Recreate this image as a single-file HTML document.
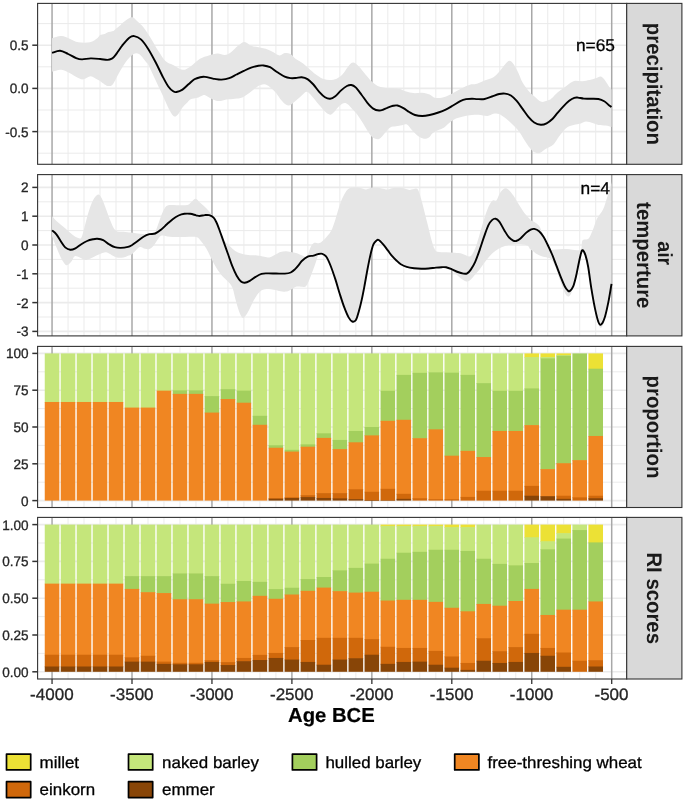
<!DOCTYPE html>
<html><head><meta charset="utf-8"><title>chart</title>
<style>
html,body{margin:0;padding:0;background:#fff;}
body{width:685px;height:801px;overflow:hidden;font-family:"Liberation Sans",sans-serif;}
svg{display:block;will-change:transform;opacity:0.9999;}
text{text-rendering:geometricPrecision;}
</style></head><body>
<svg width="685" height="801" viewBox="0 0 685 801" font-family="'Liberation Sans', sans-serif">
<rect width="685" height="801" fill="#fff"/>
<g>
<clipPath id="c0"><rect x="37.6" y="3.4" width="589.1" height="160.9"/></clipPath>
<g clip-path="url(#c0)">
<line x1="37.6" x2="626.7" y1="23.6" y2="23.6" stroke="#ebebeb" stroke-width="1.0"/>
<line x1="37.6" x2="626.7" y1="66.8" y2="66.8" stroke="#ebebeb" stroke-width="1.0"/>
<line x1="37.6" x2="626.7" y1="110" y2="110" stroke="#ebebeb" stroke-width="1.0"/>
<line x1="37.6" x2="626.7" y1="153.2" y2="153.2" stroke="#ebebeb" stroke-width="1.0"/>
<line x1="68.04" x2="68.04" y1="3.4" y2="164.3" stroke="#ebebeb" stroke-width="1.0"/>
<line x1="84.03" x2="84.03" y1="3.4" y2="164.3" stroke="#ebebeb" stroke-width="1.0"/>
<line x1="100.02" x2="100.02" y1="3.4" y2="164.3" stroke="#ebebeb" stroke-width="1.0"/>
<line x1="116.01" x2="116.01" y1="3.4" y2="164.3" stroke="#ebebeb" stroke-width="1.0"/>
<line x1="147.99" x2="147.99" y1="3.4" y2="164.3" stroke="#ebebeb" stroke-width="1.0"/>
<line x1="163.98" x2="163.98" y1="3.4" y2="164.3" stroke="#ebebeb" stroke-width="1.0"/>
<line x1="179.97" x2="179.97" y1="3.4" y2="164.3" stroke="#ebebeb" stroke-width="1.0"/>
<line x1="195.96" x2="195.96" y1="3.4" y2="164.3" stroke="#ebebeb" stroke-width="1.0"/>
<line x1="227.94" x2="227.94" y1="3.4" y2="164.3" stroke="#ebebeb" stroke-width="1.0"/>
<line x1="243.93" x2="243.93" y1="3.4" y2="164.3" stroke="#ebebeb" stroke-width="1.0"/>
<line x1="259.92" x2="259.92" y1="3.4" y2="164.3" stroke="#ebebeb" stroke-width="1.0"/>
<line x1="275.91" x2="275.91" y1="3.4" y2="164.3" stroke="#ebebeb" stroke-width="1.0"/>
<line x1="307.89" x2="307.89" y1="3.4" y2="164.3" stroke="#ebebeb" stroke-width="1.0"/>
<line x1="323.88" x2="323.88" y1="3.4" y2="164.3" stroke="#ebebeb" stroke-width="1.0"/>
<line x1="339.87" x2="339.87" y1="3.4" y2="164.3" stroke="#ebebeb" stroke-width="1.0"/>
<line x1="355.86" x2="355.86" y1="3.4" y2="164.3" stroke="#ebebeb" stroke-width="1.0"/>
<line x1="387.84" x2="387.84" y1="3.4" y2="164.3" stroke="#ebebeb" stroke-width="1.0"/>
<line x1="403.83" x2="403.83" y1="3.4" y2="164.3" stroke="#ebebeb" stroke-width="1.0"/>
<line x1="419.82" x2="419.82" y1="3.4" y2="164.3" stroke="#ebebeb" stroke-width="1.0"/>
<line x1="435.81" x2="435.81" y1="3.4" y2="164.3" stroke="#ebebeb" stroke-width="1.0"/>
<line x1="467.79" x2="467.79" y1="3.4" y2="164.3" stroke="#ebebeb" stroke-width="1.0"/>
<line x1="483.78" x2="483.78" y1="3.4" y2="164.3" stroke="#ebebeb" stroke-width="1.0"/>
<line x1="499.77" x2="499.77" y1="3.4" y2="164.3" stroke="#ebebeb" stroke-width="1.0"/>
<line x1="515.76" x2="515.76" y1="3.4" y2="164.3" stroke="#ebebeb" stroke-width="1.0"/>
<line x1="547.74" x2="547.74" y1="3.4" y2="164.3" stroke="#ebebeb" stroke-width="1.0"/>
<line x1="563.73" x2="563.73" y1="3.4" y2="164.3" stroke="#ebebeb" stroke-width="1.0"/>
<line x1="579.72" x2="579.72" y1="3.4" y2="164.3" stroke="#ebebeb" stroke-width="1.0"/>
<line x1="595.71" x2="595.71" y1="3.4" y2="164.3" stroke="#ebebeb" stroke-width="1.0"/>
<line x1="37.6" x2="626.7" y1="45.2" y2="45.2" stroke="#ebebeb" stroke-width="1.6"/>
<line x1="37.6" x2="626.7" y1="88.4" y2="88.4" stroke="#ebebeb" stroke-width="1.6"/>
<line x1="37.6" x2="626.7" y1="131.6" y2="131.6" stroke="#ebebeb" stroke-width="1.6"/>
<line x1="52.05" x2="52.05" y1="3.4" y2="164.3" stroke="#a8a8a8" stroke-width="1.5"/>
<line x1="132" x2="132" y1="3.4" y2="164.3" stroke="#a8a8a8" stroke-width="1.5"/>
<line x1="211.95" x2="211.95" y1="3.4" y2="164.3" stroke="#a8a8a8" stroke-width="1.5"/>
<line x1="291.9" x2="291.9" y1="3.4" y2="164.3" stroke="#a8a8a8" stroke-width="1.5"/>
<line x1="371.85" x2="371.85" y1="3.4" y2="164.3" stroke="#a8a8a8" stroke-width="1.5"/>
<line x1="451.8" x2="451.8" y1="3.4" y2="164.3" stroke="#a8a8a8" stroke-width="1.5"/>
<line x1="531.75" x2="531.75" y1="3.4" y2="164.3" stroke="#a8a8a8" stroke-width="1.5"/>
<line x1="611.7" x2="611.7" y1="3.4" y2="164.3" stroke="#a8a8a8" stroke-width="1.5"/>
<path d="M52.06,38.2C53.63,37.85 58.58,36.02 61.5,36.1C64.42,36.18 66.8,37.67 69.6,38.7C72.4,39.73 74.9,41.7 78.3,42.3C81.7,42.9 86.83,42.98 90,42.3C93.17,41.62 95.63,39.42 97.3,38.2C98.97,36.98 98.78,35.72 100,35C101.22,34.28 103.38,34.33 104.6,33.9C105.82,33.47 105.83,32.88 107.3,32.4C108.77,31.92 112.18,31.42 113.4,31C114.62,30.58 113.38,30.9 114.6,29.9C115.82,28.9 119.48,26.08 120.7,25C121.92,23.92 120.12,24.68 121.9,23.4C123.68,22.12 128.97,17.8 131.4,17.3C133.83,16.8 134.43,18.67 136.5,20.4C138.57,22.13 141.37,24.65 143.8,27.7C146.23,30.75 148.67,34.8 151.1,38.7C153.53,42.6 155.97,47.33 158.4,51.1C160.83,54.87 163.27,58.98 165.7,61.3C168.13,63.62 170.17,63.58 173,65C175.83,66.42 179.78,69.57 182.7,69.8C185.62,70.03 187.62,68.23 190.5,66.4C193.38,64.57 196.95,60.62 200,58.8C203.05,56.98 205.88,56.37 208.8,55.5C211.72,54.63 214.83,53.67 217.5,53.6C220.17,53.53 222.6,55.27 224.8,55.1C227,54.93 228.5,54.15 230.7,52.6C232.9,51.05 235.7,47.57 238,45.8C240.3,44.03 242.32,42 244.5,42C246.68,42 248.78,44.93 251.1,45.8C253.42,46.67 255.97,46.72 258.4,47.2C260.83,47.68 263.27,47.92 265.7,48.7C268.13,49.48 270.68,50.77 273,51.9C275.32,53.03 277.65,55.3 279.6,55.5C281.55,55.7 282.88,53.35 284.7,53.1C286.52,52.85 288.65,53.02 290.5,54C292.35,54.98 293.7,57.43 295.8,59C297.9,60.57 300.67,61.58 303.1,63.4C305.53,65.22 307.97,67.83 310.4,69.9C312.83,71.97 315.5,74.27 317.7,75.8C319.9,77.33 321.53,78.38 323.6,79.1C325.67,79.82 327.92,80.17 330.1,80.1C332.28,80.03 334.62,79.67 336.7,78.7C338.78,77.73 340.65,76.37 342.6,74.3C344.55,72.23 346.65,68.25 348.4,66.3C350.15,64.35 351.4,62.6 353.1,62.6C354.8,62.6 356.47,64.23 358.6,66.3C360.73,68.37 363.7,72.45 365.9,75C368.1,77.55 369.85,79.77 371.8,81.6C373.75,83.43 375.67,85.02 377.6,86C379.53,86.98 381.53,87.13 383.4,87.5C385.27,87.87 386.2,88 388.8,88.2C391.4,88.4 396.08,88.13 399,88.7C401.92,89.27 403.87,90.87 406.3,91.6C408.73,92.33 410.93,92.9 413.6,93.1C416.27,93.3 419.63,92.57 422.3,92.8C424.97,93.03 427.65,93.73 429.6,94.5C431.55,95.27 432.28,96.83 434,97.4C435.72,97.97 437.7,98.13 439.9,97.9C442.1,97.67 444.77,96.93 447.2,96C449.63,95.07 452.07,93.6 454.5,92.3C456.93,91 459.13,89.5 461.8,88.2C464.47,86.9 468.17,85.18 470.5,84.5C472.83,83.82 473.45,84.78 475.8,84.1C478.15,83.42 481.67,81.55 484.6,80.4C487.53,79.25 490.97,78.65 493.4,77.2C495.83,75.75 497.27,73.83 499.2,71.7C501.13,69.57 503.3,66.23 505,64.4C506.7,62.57 507.93,60.7 509.4,60.7C510.87,60.7 512.33,62.45 513.8,64.4C515.27,66.35 516.73,69.37 518.2,72.4C519.67,75.43 520.9,79.55 522.6,82.6C524.3,85.65 526.47,88.43 528.4,90.7C530.33,92.97 532.02,94.35 534.2,96.2C536.38,98.05 539.07,101.15 541.5,101.8C543.93,102.45 547.1,100.68 548.8,100.1C550.5,99.52 550.25,99.58 551.7,98.3C553.15,97.02 555.55,94.08 557.5,92.4C559.45,90.72 561.45,89.63 563.4,88.2C565.35,86.77 567.27,85.03 569.2,83.8C571.13,82.57 572.82,81.23 575,80.8C577.18,80.37 579.87,81.33 582.3,81.2C584.73,81.07 587.4,80.48 589.6,80C591.8,79.52 593.67,78.9 595.5,78.3C597.33,77.7 599.15,76.23 600.6,76.4C602.05,76.57 602.87,77.72 604.2,79.3C605.53,80.88 607.38,84.2 608.6,85.9C609.82,87.6 611.02,88.9 611.5,89.5L611.5,127C610.53,126.77 607.88,125.93 605.7,125.6C603.52,125.27 600.58,125.42 598.4,125C596.22,124.58 594.67,123.67 592.6,123.1C590.53,122.53 587.95,121.53 586,121.6C584.05,121.67 582.97,122.93 580.9,123.5C578.83,124.07 576.03,124.27 573.6,125C571.17,125.73 568.73,125.98 566.3,127.9C563.87,129.82 561.18,133.68 559,136.5C556.82,139.32 555.38,142.75 553.2,144.8C551.02,146.85 547.97,147.53 545.9,148.8C543.83,150.07 542.38,151.68 540.8,152.4C539.22,153.12 537.98,153.53 536.4,153.1C534.82,152.67 533.12,151.68 531.3,149.8C529.48,147.92 527.45,144.72 525.5,141.8C523.55,138.88 521.55,134.98 519.6,132.3C517.65,129.62 515.98,127.9 513.8,125.7C511.62,123.5 508.93,121.05 506.5,119.1C504.07,117.15 501.38,114.9 499.2,114C497.02,113.1 495.35,113.38 493.4,113.7C491.45,114.02 489.93,115.73 487.5,115.9C485.07,116.07 481.38,114.85 478.8,114.7C476.22,114.55 474.6,114.72 472,115C469.4,115.28 465.88,115.8 463.2,116.4C460.52,117 458.08,117.62 455.9,118.6C453.72,119.58 452.05,120.83 450.1,122.3C448.15,123.77 446.15,126.12 444.2,127.4C442.25,128.68 440.33,129.03 438.4,130C436.47,130.97 434.18,131.93 432.6,133.2C431.02,134.47 430.37,136.67 428.9,137.6C427.43,138.53 425.62,139.05 423.8,138.8C421.98,138.55 419.95,137.52 418,136.1C416.05,134.68 413.93,132.23 412.1,130.3C410.27,128.37 408.7,125.35 407,124.5C405.3,123.65 403.72,124.92 401.9,125.2C400.08,125.48 398.05,125.83 396.1,126.2C394.15,126.57 392.07,126.27 390.2,127.4C388.33,128.53 386.75,131.07 384.9,133C383.05,134.93 381.05,138.2 379.1,139C377.15,139.8 374.92,138.85 373.2,137.8C371.48,136.75 370.5,135.13 368.8,132.7C367.1,130.27 364.93,126.23 363,123.2C361.07,120.17 359.15,117.05 357.2,114.5C355.25,111.95 353.25,109.8 351.3,107.9C349.35,106 347.45,103.47 345.5,103.1C343.55,102.73 341.55,104.17 339.6,105.7C337.65,107.23 335.38,110.8 333.8,112.3C332.22,113.8 331.57,114.83 330.1,114.7C328.63,114.57 326.82,113.12 325,111.5C323.18,109.88 321.38,107.55 319.2,105C317.02,102.45 313.97,98.4 311.9,96.2C309.83,94 308.5,91.92 306.8,91.8C305.1,91.68 303.68,93.88 301.7,95.5C299.72,97.12 297.13,99.82 294.9,101.5C292.67,103.18 290.48,105.72 288.3,105.6C286.12,105.48 283.87,102.93 281.8,100.8C279.73,98.67 277.85,95.07 275.9,92.8C273.95,90.53 272.05,88.62 270.1,87.2C268.15,85.78 266.4,84.35 264.2,84.3C262,84.25 259.33,85.48 256.9,86.9C254.47,88.32 252.03,91.05 249.6,92.8C247.17,94.55 244.73,96.42 242.3,97.4C239.87,98.38 237.67,98.35 235,98.7C232.33,99.05 228.97,99.1 226.3,99.5C223.63,99.9 221.42,101.2 219,101.1C216.58,101 214.1,99.88 211.8,98.9C209.5,97.92 207,95.65 205.2,95.2C203.4,94.75 202.32,95.77 201,96.2C199.68,96.63 199.02,97.28 197.3,97.8C195.58,98.32 192.4,98.48 190.7,99.3C189,100.12 188.43,101.37 187.1,102.7C185.77,104.03 184.17,105.43 182.7,107.3C181.23,109.17 179.72,112.38 178.3,113.9C176.88,115.42 175.65,117 174.2,116.4C172.75,115.8 171.58,113.95 169.6,110.3C167.62,106.65 164.73,99.73 162.3,94.5C159.87,89.27 157.32,83.82 155,78.9C152.68,73.98 149.78,67.68 148.4,65C147.02,62.32 148.2,64.58 146.7,62.8C145.2,61.02 141.58,55.77 139.4,54.3C137.22,52.83 135.78,52.83 133.6,54C131.42,55.17 128.73,58.13 126.3,61.3C123.87,64.47 121.2,69.23 119,73C116.8,76.77 114.8,81.72 113.1,83.9C111.4,86.08 110.22,86.02 108.8,86.1C107.38,86.18 106.07,85.25 104.6,84.4C103.13,83.55 101.22,81.8 100,81C98.78,80.2 98.85,80.4 97.3,79.6C95.75,78.8 93.02,76.25 90.7,76.2C88.38,76.15 85.47,78.98 83.4,79.3C81.33,79.62 80.6,79.15 78.3,78.1C76,77.05 72.4,74.38 69.6,73C66.8,71.62 64.42,70 61.5,69.8C58.58,69.6 53.63,71.47 52.06,71.8Z" fill="#e6e6e6"/>
<path d="M52.06,52.8C53.4,52.47 57.43,50.6 60.1,50.8C62.77,51 65.43,52.78 68.1,54C70.77,55.22 73.78,57.2 76.1,58.1C78.42,59 79.57,59.35 82,59.4C84.43,59.45 87.67,58.47 90.7,58.4C93.73,58.33 97.4,58.75 100.2,59C103,59.25 105.55,59.97 107.5,59.9C109.45,59.83 110.72,59.22 111.9,58.6C113.08,57.98 113.62,57.33 114.6,56.2C115.58,55.07 116.58,53.5 117.8,51.8C119.02,50.1 120.93,47.33 121.9,46C122.87,44.67 122.37,45.18 123.6,43.8C124.83,42.42 127.53,38.98 129.3,37.7C131.07,36.42 132.27,35.82 134.2,36.1C136.13,36.38 138.57,37.27 140.9,39.4C143.23,41.53 145.77,45.13 148.2,48.9C150.63,52.67 153.12,57.45 155.5,62C157.88,66.55 160.37,72.12 162.5,76.2C164.63,80.28 166.52,83.98 168.3,86.5C170.08,89.02 171.83,90.38 173.2,91.3C174.57,92.22 174.95,92.28 176.5,92C178.05,91.72 180.45,90.93 182.5,89.6C184.55,88.27 186.82,85.72 188.8,84C190.78,82.28 192.5,80.43 194.4,79.3C196.3,78.17 198.43,77.6 200.2,77.2C201.97,76.8 203.05,76.7 205,76.9C206.95,77.1 210.3,78.07 211.9,78.4C213.5,78.73 213,78.7 214.6,78.9C216.2,79.1 219.07,79.72 221.5,79.6C223.93,79.48 226.7,79.05 229.2,78.2C231.7,77.35 234.07,75.72 236.5,74.5C238.93,73.28 241.37,72.03 243.8,70.9C246.23,69.77 248.67,68.55 251.1,67.7C253.53,66.85 256.33,66.17 258.4,65.8C260.47,65.43 261.55,65.27 263.5,65.5C265.45,65.73 267.78,66.07 270.1,67.2C272.42,68.33 274.97,70.72 277.4,72.3C279.83,73.88 282.52,75.73 284.7,76.7C286.88,77.67 288.65,77.88 290.5,78.1C292.35,78.32 293.93,78.15 295.8,78C297.67,77.85 299.75,77.02 301.7,77.2C303.65,77.38 305.55,77.88 307.5,79.1C309.45,80.32 311.45,82.38 313.4,84.5C315.35,86.62 317.27,89.68 319.2,91.8C321.13,93.92 323.18,96.03 325,97.2C326.82,98.37 328.38,98.97 330.1,98.8C331.82,98.63 333.47,97.6 335.3,96.2C337.13,94.8 339.17,92.1 341.1,90.4C343.03,88.7 345.2,86.9 346.9,86C348.6,85.1 349.83,84.77 351.3,85C352.77,85.23 354,85.78 355.7,87.4C357.4,89.02 359.55,92.13 361.5,94.7C363.45,97.27 365.45,100.48 367.4,102.8C369.35,105.12 371.25,107.32 373.2,108.6C375.15,109.88 377.38,110.35 379.1,110.5C380.82,110.65 382.13,109.95 383.5,109.5C384.87,109.05 385.7,108.42 387.3,107.8C388.9,107.18 391.4,106.18 393.1,105.8C394.8,105.42 395.78,105.12 397.5,105.5C399.22,105.88 401.45,107.02 403.4,108.1C405.35,109.18 407.27,110.85 409.2,112C411.13,113.15 412.82,114.33 415,115C417.18,115.67 419.87,116 422.3,116C424.73,116 426.92,115.58 429.6,115C432.28,114.42 435.72,113.4 438.4,112.5C441.08,111.6 443.27,110.77 445.7,109.6C448.13,108.43 450.57,106.92 453,105.5C455.43,104.08 458.12,102.17 460.3,101.1C462.48,100.03 464.15,99.5 466.1,99.1C468.05,98.7 470.13,98.7 472,98.7C473.87,98.7 475.2,99.05 477.3,99.1C479.4,99.15 482.17,99.43 484.6,99C487.03,98.57 489.47,97.33 491.9,96.5C494.33,95.67 497.02,94.48 499.2,94C501.38,93.52 503.05,93.35 505,93.6C506.95,93.85 508.95,94.28 510.9,95.5C512.85,96.72 514.75,98.67 516.7,100.9C518.65,103.13 520.65,106.23 522.6,108.9C524.55,111.57 526.47,114.63 528.4,116.9C530.33,119.17 532.13,121.2 534.2,122.5C536.27,123.8 538.73,124.57 540.8,124.7C542.87,124.83 544.67,124.25 546.6,123.3C548.53,122.35 550.58,120.73 552.4,119C554.22,117.27 555.67,115.02 557.5,112.9C559.33,110.78 561.45,108.32 563.4,106.3C565.35,104.28 567.38,102.22 569.2,100.8C571.02,99.38 572.83,98.33 574.3,97.8C575.77,97.27 576.42,97.47 578,97.6C579.58,97.73 581.62,98.42 583.8,98.6C585.98,98.78 588.67,98.63 591.1,98.7C593.53,98.77 596.22,98.58 598.4,99C600.58,99.42 602.5,100.22 604.2,101.2C605.9,102.18 607.38,103.93 608.6,104.9C609.82,105.87 611.02,106.65 611.5,107" fill="none" stroke="#000" stroke-width="1.9" stroke-linejoin="round"/>
<text transform="translate(595.4,50.6) scale(1.02,1)" font-size="17.0" text-anchor="middle" fill="#000" stroke="#000" stroke-width="0.3">n=65</text>
</g>
<rect x="37.6" y="3.4" width="589.1" height="160.9" fill="none" stroke="#333333" stroke-width="1.1"/>
<rect x="626.7" y="3.4" width="55.2" height="160.9" fill="#d9d9d9" stroke="#333333" stroke-width="1.1"/>
<text transform="translate(646.9,83.85) rotate(90) scale(1,1.04)" font-size="20.35" font-weight="bold" text-anchor="middle" fill="#1a1a1a">precipitation</text>
<line x1="32.3" x2="37.6" y1="45.2" y2="45.2" stroke="#333333" stroke-width="1.5"/>
<text transform="translate(28.6,50.1) scale(0.99,1)" font-size="13.7" text-anchor="end" fill="#262626" stroke="#262626" stroke-width="0.3">0.5</text>
<line x1="32.3" x2="37.6" y1="88.4" y2="88.4" stroke="#333333" stroke-width="1.5"/>
<text transform="translate(28.6,93.3) scale(0.99,1)" font-size="13.7" text-anchor="end" fill="#262626" stroke="#262626" stroke-width="0.3">0.0</text>
<line x1="32.3" x2="37.6" y1="131.6" y2="131.6" stroke="#333333" stroke-width="1.5"/>
<text transform="translate(28.6,136.5) scale(0.99,1)" font-size="13.7" text-anchor="end" fill="#262626" stroke="#262626" stroke-width="0.3">-0.5</text>
</g>
<g>
<clipPath id="c1"><rect x="37.6" y="174.6" width="589.1" height="161.3"/></clipPath>
<g clip-path="url(#c1)">
<line x1="37.6" x2="626.7" y1="201.8" y2="201.8" stroke="#ebebeb" stroke-width="1.0"/>
<line x1="37.6" x2="626.7" y1="230.6" y2="230.6" stroke="#ebebeb" stroke-width="1.0"/>
<line x1="37.6" x2="626.7" y1="259.4" y2="259.4" stroke="#ebebeb" stroke-width="1.0"/>
<line x1="37.6" x2="626.7" y1="288.2" y2="288.2" stroke="#ebebeb" stroke-width="1.0"/>
<line x1="37.6" x2="626.7" y1="317" y2="317" stroke="#ebebeb" stroke-width="1.0"/>
<line x1="68.04" x2="68.04" y1="174.6" y2="335.9" stroke="#ebebeb" stroke-width="1.0"/>
<line x1="84.03" x2="84.03" y1="174.6" y2="335.9" stroke="#ebebeb" stroke-width="1.0"/>
<line x1="100.02" x2="100.02" y1="174.6" y2="335.9" stroke="#ebebeb" stroke-width="1.0"/>
<line x1="116.01" x2="116.01" y1="174.6" y2="335.9" stroke="#ebebeb" stroke-width="1.0"/>
<line x1="147.99" x2="147.99" y1="174.6" y2="335.9" stroke="#ebebeb" stroke-width="1.0"/>
<line x1="163.98" x2="163.98" y1="174.6" y2="335.9" stroke="#ebebeb" stroke-width="1.0"/>
<line x1="179.97" x2="179.97" y1="174.6" y2="335.9" stroke="#ebebeb" stroke-width="1.0"/>
<line x1="195.96" x2="195.96" y1="174.6" y2="335.9" stroke="#ebebeb" stroke-width="1.0"/>
<line x1="227.94" x2="227.94" y1="174.6" y2="335.9" stroke="#ebebeb" stroke-width="1.0"/>
<line x1="243.93" x2="243.93" y1="174.6" y2="335.9" stroke="#ebebeb" stroke-width="1.0"/>
<line x1="259.92" x2="259.92" y1="174.6" y2="335.9" stroke="#ebebeb" stroke-width="1.0"/>
<line x1="275.91" x2="275.91" y1="174.6" y2="335.9" stroke="#ebebeb" stroke-width="1.0"/>
<line x1="307.89" x2="307.89" y1="174.6" y2="335.9" stroke="#ebebeb" stroke-width="1.0"/>
<line x1="323.88" x2="323.88" y1="174.6" y2="335.9" stroke="#ebebeb" stroke-width="1.0"/>
<line x1="339.87" x2="339.87" y1="174.6" y2="335.9" stroke="#ebebeb" stroke-width="1.0"/>
<line x1="355.86" x2="355.86" y1="174.6" y2="335.9" stroke="#ebebeb" stroke-width="1.0"/>
<line x1="387.84" x2="387.84" y1="174.6" y2="335.9" stroke="#ebebeb" stroke-width="1.0"/>
<line x1="403.83" x2="403.83" y1="174.6" y2="335.9" stroke="#ebebeb" stroke-width="1.0"/>
<line x1="419.82" x2="419.82" y1="174.6" y2="335.9" stroke="#ebebeb" stroke-width="1.0"/>
<line x1="435.81" x2="435.81" y1="174.6" y2="335.9" stroke="#ebebeb" stroke-width="1.0"/>
<line x1="467.79" x2="467.79" y1="174.6" y2="335.9" stroke="#ebebeb" stroke-width="1.0"/>
<line x1="483.78" x2="483.78" y1="174.6" y2="335.9" stroke="#ebebeb" stroke-width="1.0"/>
<line x1="499.77" x2="499.77" y1="174.6" y2="335.9" stroke="#ebebeb" stroke-width="1.0"/>
<line x1="515.76" x2="515.76" y1="174.6" y2="335.9" stroke="#ebebeb" stroke-width="1.0"/>
<line x1="547.74" x2="547.74" y1="174.6" y2="335.9" stroke="#ebebeb" stroke-width="1.0"/>
<line x1="563.73" x2="563.73" y1="174.6" y2="335.9" stroke="#ebebeb" stroke-width="1.0"/>
<line x1="579.72" x2="579.72" y1="174.6" y2="335.9" stroke="#ebebeb" stroke-width="1.0"/>
<line x1="595.71" x2="595.71" y1="174.6" y2="335.9" stroke="#ebebeb" stroke-width="1.0"/>
<line x1="37.6" x2="626.7" y1="187.4" y2="187.4" stroke="#ebebeb" stroke-width="1.6"/>
<line x1="37.6" x2="626.7" y1="216.2" y2="216.2" stroke="#ebebeb" stroke-width="1.6"/>
<line x1="37.6" x2="626.7" y1="245" y2="245" stroke="#ebebeb" stroke-width="1.6"/>
<line x1="37.6" x2="626.7" y1="273.8" y2="273.8" stroke="#ebebeb" stroke-width="1.6"/>
<line x1="37.6" x2="626.7" y1="302.6" y2="302.6" stroke="#ebebeb" stroke-width="1.6"/>
<line x1="37.6" x2="626.7" y1="331.4" y2="331.4" stroke="#ebebeb" stroke-width="1.6"/>
<line x1="52.05" x2="52.05" y1="174.6" y2="335.9" stroke="#a8a8a8" stroke-width="1.5"/>
<line x1="132" x2="132" y1="174.6" y2="335.9" stroke="#a8a8a8" stroke-width="1.5"/>
<line x1="211.95" x2="211.95" y1="174.6" y2="335.9" stroke="#a8a8a8" stroke-width="1.5"/>
<line x1="291.9" x2="291.9" y1="174.6" y2="335.9" stroke="#a8a8a8" stroke-width="1.5"/>
<line x1="371.85" x2="371.85" y1="174.6" y2="335.9" stroke="#a8a8a8" stroke-width="1.5"/>
<line x1="451.8" x2="451.8" y1="174.6" y2="335.9" stroke="#a8a8a8" stroke-width="1.5"/>
<line x1="531.75" x2="531.75" y1="174.6" y2="335.9" stroke="#a8a8a8" stroke-width="1.5"/>
<line x1="611.7" x2="611.7" y1="174.6" y2="335.9" stroke="#a8a8a8" stroke-width="1.5"/>
<path d="M52.06,216.2C53.03,217.22 55.71,220.3 57.9,222.3C60.09,224.3 62.77,226.13 65.2,228.2C67.63,230.27 70.43,233.12 72.5,234.7C74.57,236.28 76.13,237.2 77.6,237.7C79.07,238.2 80.2,239.28 81.3,237.7C82.4,236.12 82.98,232.47 84.2,228.2C85.42,223.93 87.15,216.73 88.6,212.1C90.05,207.47 91.33,203.32 92.9,200.4C94.47,197.48 96.53,194.97 98,194.6C99.47,194.23 100.35,195.77 101.7,198.2C103.05,200.63 104.63,205.42 106.1,209.2C107.57,212.98 108.92,217.37 110.5,220.9C112.08,224.43 113.42,228.58 115.6,230.4C117.78,232.22 121.05,231.43 123.6,231.8C126.15,232.17 128.83,232.37 130.9,232.6C132.97,232.83 133.65,232.95 136,233.2C138.35,233.45 142.05,234 145,234.1C147.95,234.2 151.63,235.07 153.7,233.8C155.77,232.53 156.18,229.42 157.4,226.5C158.62,223.58 159.78,219.35 161,216.3C162.22,213.25 163.48,210.03 164.7,208.2C165.92,206.37 166.23,205.78 168.3,205.3C170.37,204.82 173.93,205.35 177.1,205.3C180.27,205.25 184.87,205.6 187.3,205C189.73,204.4 190.28,202.73 191.7,201.7C193.12,200.67 194.33,198.57 195.8,198.8C197.27,199.03 198.75,201.53 200.5,203.1C202.25,204.67 204.48,206.37 206.3,208.2C208.12,210.03 210.18,212.63 211.4,214.1C212.62,215.57 212.75,215.6 213.6,217C214.45,218.4 215.58,220.5 216.5,222.5C217.42,224.5 217.93,225.92 219.1,229C220.27,232.08 222.52,238.93 223.5,241C224.48,243.07 224.02,240.6 225,241.4C225.98,242.2 227.7,244.22 229.4,245.8C231.1,247.38 233.27,249.62 235.2,250.9C237.13,252.18 238.82,252.82 241,253.5C243.18,254.18 245.62,254.67 248.3,255C250.98,255.33 254.42,255.22 257.1,255.5C259.78,255.78 262.33,256.38 264.4,256.7C266.47,257.02 267.8,257.68 269.5,257.4C271.2,257.12 272.77,255.9 274.6,255C276.43,254.1 278.55,252.62 280.5,252C282.45,251.38 284.37,251.25 286.3,251.3C288.23,251.35 290.48,252.02 292.1,252.3C293.72,252.58 294.13,252.4 296,253C297.87,253.6 301.47,255.3 303.3,255.9C305.13,256.5 305.78,258.05 307,256.6C308.22,255.15 309.4,249.5 310.6,247.2C311.8,244.9 312.73,243.48 314.2,242.8C315.67,242.12 317.57,243.83 319.4,243.1C321.23,242.37 323.27,240.4 325.2,238.4C327.13,236.4 329.3,234.27 331,231.1C332.7,227.93 333.93,223.78 335.4,219.4C336.87,215.02 338.33,208.93 339.8,204.8C341.27,200.67 342.73,197.27 344.2,194.6C345.67,191.93 346.9,189.97 348.6,188.8C350.3,187.63 352.47,187.73 354.4,187.6C356.33,187.47 358.25,187.68 360.2,188C362.15,188.32 364.15,189.57 366.1,189.5C368.05,189.43 369.95,187.92 371.9,187.6C373.85,187.28 376.15,187.45 377.8,187.6C379.45,187.75 380.15,188.18 381.8,188.5C383.45,188.82 385.75,189.58 387.7,189.5C389.65,189.42 391.07,188.25 393.5,188C395.93,187.75 399.62,187.68 402.3,188C404.98,188.32 407.17,189.77 409.6,189.9C412.03,190.03 415.2,188.02 416.9,188.8C418.6,189.58 418.83,191.93 419.8,194.6C420.77,197.27 421.73,201.15 422.7,204.8C423.67,208.45 424.62,212.6 425.6,216.5C426.58,220.4 427.62,224.3 428.6,228.2C429.58,232.1 430.53,236.5 431.5,239.9C432.47,243.3 433.43,246.62 434.4,248.6C435.37,250.58 435.35,251.18 437.3,251.8C439.25,252.42 443.18,252.15 446.1,252.3C449.02,252.45 452.13,252.47 454.8,252.7C457.47,252.93 459.67,253.05 462.1,253.7C464.53,254.35 467.58,256.72 469.4,256.6C471.22,256.48 471.78,255.07 473,253C474.22,250.93 475.37,248.1 476.7,244.2C478.03,240.3 479.55,234.47 481,229.6C482.45,224.73 484.05,219.02 485.4,215C486.75,210.98 487.88,207.93 489.1,205.5C490.32,203.07 491.48,201.25 492.7,200.4C493.92,199.55 495.18,201.62 496.4,200.4C497.62,199.18 498.67,195.08 500,193.1C501.33,191.12 502.93,189.03 504.4,188.5C505.87,187.97 507.33,188.77 508.8,189.9C510.27,191.03 511.5,192.82 513.2,195.3C514.9,197.78 517.07,201.75 519,204.8C520.93,207.85 522.85,211.08 524.8,213.6C526.75,216.12 529.1,218.5 530.7,219.9C532.3,221.3 533.05,221.05 534.4,222C535.75,222.95 537.58,224.02 538.8,225.6C540.02,227.18 540.92,229.63 541.7,231.5C542.48,233.37 542.53,234.63 543.5,236.8C544.47,238.97 546.42,242.38 547.5,244.5C548.58,246.62 546.83,248.75 550,249.5C553.17,250.25 562.05,248.88 566.5,249C570.95,249.12 574.27,250.2 576.7,250.2C579.13,250.2 580.12,250.67 581.1,249C582.08,247.33 581.38,241.9 582.6,240.2C583.82,238.5 586.7,240.5 588.4,238.8C590.1,237.1 591.33,233.42 592.8,230C594.27,226.58 595.5,221.7 597.2,218.3C598.9,214.9 601.3,213.25 603,209.6C604.7,205.95 606.07,200.53 607.4,196.4C608.73,192.27 610.3,187.37 611,184.8C611.7,182.23 611.5,181.63 611.6,181L611.5,283.8C611.05,286.67 609.85,295.3 608.8,301C607.75,306.7 606.42,313.57 605.2,318C603.98,322.43 602.6,326.6 601.5,327.6C600.4,328.6 599.68,327.1 598.6,324C597.52,320.9 596.22,314.97 595,309C593.78,303.03 592.43,295.2 591.3,288.2C590.17,281.2 589.17,272.47 588.2,267C587.23,261.53 586.42,258.2 585.5,255.4C584.58,252.6 583.43,250.6 582.7,250.2C581.97,249.8 581.73,250.95 581.1,253C580.47,255.05 579.75,258.58 578.9,262.5C578.05,266.42 576.97,272.35 576,276.5C575.03,280.65 573.95,284.48 573.1,287.4C572.25,290.32 571.72,292.47 570.9,294C570.08,295.53 569.18,296.72 568.2,296.6C567.22,296.48 566.25,295.68 565,293.3C563.75,290.92 562.15,286.32 560.7,282.3C559.25,278.28 557.77,272.92 556.3,269.2C554.83,265.48 553.37,261.9 551.9,260C550.43,258.1 549.2,258.42 547.5,257.8C545.8,257.18 543.65,257.03 541.7,256.3C539.75,255.57 537.15,254.2 535.8,253.4C534.45,252.6 534.57,252.23 533.6,251.5C532.63,250.77 530.97,249.97 530,249C529.03,248.03 529.15,246.5 527.8,245.7C526.45,244.9 524.1,244.45 521.9,244.2C519.7,243.95 517.03,244 514.6,244.2C512.17,244.4 509.48,244.9 507.3,245.4C505.12,245.9 503.45,246.3 501.5,247.2C499.55,248.1 497.55,249.35 495.6,250.8C493.65,252.25 491.73,253.83 489.8,255.9C487.87,257.97 485.7,260.93 484,263.2C482.3,265.47 481.07,267.62 479.6,269.5C478.13,271.38 476.67,272.85 475.2,274.5C473.73,276.15 472.02,278.27 470.8,279.4C469.58,280.53 468.87,281.05 467.9,281.3C466.93,281.55 466.22,281.4 465,280.9C463.78,280.4 462.07,279.4 460.6,278.3C459.13,277.2 457.67,275.65 456.2,274.3C454.73,272.95 453.48,271.37 451.8,270.2C450.12,269.03 447.78,267.8 446.1,267.3C444.42,266.8 443.4,267.15 441.7,267.2C440,267.25 438.08,267.38 435.9,267.6C433.72,267.82 431.03,268.3 428.6,268.5C426.17,268.7 423.73,268.83 421.3,268.8C418.87,268.77 416.43,268.62 414,268.3C411.57,267.98 408.9,267.58 406.7,266.9C404.5,266.22 402.52,265.27 400.8,264.2C399.08,263.13 397.83,261.83 396.4,260.5C394.97,259.17 393.63,257.88 392.2,256.2C390.77,254.52 389.27,252.33 387.8,250.4C386.33,248.47 384.92,246.33 383.4,244.6C381.88,242.87 379.88,240.65 378.7,240C377.52,239.35 377.18,239.97 376.3,240.7C375.42,241.43 374.37,242.08 373.4,244.4C372.43,246.72 371.48,250.47 370.5,254.6C369.52,258.73 368.48,264.08 367.5,269.2C366.52,274.32 365.57,280.18 364.6,285.3C363.63,290.42 362.67,295.53 361.7,299.9C360.73,304.27 359.77,308.15 358.8,311.5C357.83,314.85 357,318.33 355.9,320C354.8,321.67 353.42,321.93 352.2,321.5C350.98,321.07 349.93,319.78 348.6,317.4C347.27,315.02 345.67,311.1 344.2,307.2C342.73,303.3 341.27,298.63 339.8,294C338.33,289.37 336.98,284.23 335.4,279.4C333.82,274.57 331.82,268.78 330.3,265C328.78,261.22 327.63,258.57 326.3,256.7C324.97,254.83 323.45,254.2 322.3,253.8C321.15,253.4 320.13,253.92 319.4,254.3C318.67,254.68 318.63,254.35 317.9,256.1C317.17,257.85 316.22,261.4 315,264.8C313.78,268.2 312.07,272.97 310.6,276.5C309.13,280.03 307.67,284.3 306.2,286C304.73,287.7 303.5,286.58 301.8,286.7C300.1,286.82 297.62,286.32 296,286.7C294.38,287.08 293.72,288.18 292.1,289C290.48,289.82 288.48,291.28 286.3,291.6C284.12,291.92 281.92,291.32 279,290.9C276.08,290.48 271.48,289.3 268.8,289.1C266.12,288.9 264.6,289.03 262.9,289.7C261.2,290.37 260.05,291.45 258.6,293.1C257.15,294.75 255.67,297.05 254.2,299.6C252.73,302.15 251.15,305.83 249.8,308.4C248.45,310.97 247.2,313.42 246.1,315C245,316.58 244.05,317.78 243.2,317.9C242.35,318.02 241.85,317.28 241,315.7C240.15,314.12 239.07,311.32 238.1,308.4C237.13,305.48 235.97,301.1 235.2,298.2C234.43,295.3 233.98,292.8 233.5,291C233.02,289.2 232.98,288.73 232.3,287.4C231.62,286.07 230.87,284.7 229.4,283C227.93,281.3 225.45,279.38 223.5,277.2C221.55,275.02 219.65,272.85 217.7,269.9C215.75,266.95 213.7,263.07 211.8,259.5C209.9,255.93 208.18,251.68 206.3,248.5C204.42,245.32 202.2,242.32 200.5,240.4C198.8,238.48 198.78,237.57 196.1,237C193.42,236.43 188.78,237.05 184.4,237C180.02,236.95 173.57,236.95 169.8,236.7C166.03,236.45 163.75,235.13 161.8,235.5C159.85,235.87 159.45,237.23 158.1,238.9C156.75,240.57 155.15,243.8 153.7,245.5C152.25,247.2 150.85,248.55 149.4,249.1C147.95,249.65 146.47,249.17 145,248.8C143.53,248.43 141.82,246.97 140.6,246.9C139.38,246.83 139.17,247.18 137.7,248.4C136.23,249.62 133.42,252.97 131.8,254.2C130.18,255.43 129.37,255.27 128,255.8C126.63,256.33 125.3,257.08 123.6,257.4C121.9,257.72 119.75,258.07 117.8,257.7C115.85,257.33 113.85,256.1 111.9,255.2C109.95,254.3 108.28,252.42 106.1,252.3C103.92,252.18 101.23,253.53 98.8,254.5C96.37,255.47 93.7,257.2 91.5,258.1C89.3,259 87.55,260.02 85.6,259.9C83.65,259.78 81.62,258.02 79.8,257.4C77.98,256.78 76.03,255.6 74.7,256.2C73.37,256.8 72.9,259.58 71.8,261C70.7,262.42 69.2,264.13 68.1,264.7C67,265.27 66.42,265.62 65.2,264.4C63.98,263.18 62.27,260.27 60.8,257.4C59.33,254.53 57.86,250.73 56.4,247.2C54.94,243.67 52.78,238.03 52.06,236.2Z" fill="#e6e6e6"/>
<path d="M52.06,230.4C52.78,231.05 54.94,232.48 56.4,234.3C57.86,236.12 59.33,239.12 60.8,241.3C62.27,243.48 63.62,245.98 65.2,247.4C66.78,248.82 68.6,249.65 70.3,249.8C72,249.95 73.57,249.23 75.4,248.3C77.23,247.37 79.35,245.42 81.3,244.2C83.25,242.98 85.17,241.82 87.1,241C89.03,240.18 91.2,239.67 92.9,239.3C94.6,238.93 95.58,238.67 97.3,238.8C99.02,238.93 101.25,239.2 103.2,240.1C105.15,241 107.07,243.02 109,244.2C110.93,245.38 112.85,246.58 114.8,247.2C116.75,247.82 118.5,247.95 120.7,247.9C122.9,247.85 126.15,247.35 128,246.9C129.85,246.45 130.18,246.17 131.8,245.2C133.42,244.23 135.75,242.52 137.7,241.1C139.65,239.68 141.55,237.85 143.5,236.7C145.45,235.55 147.45,234.73 149.4,234.2C151.35,233.67 153.27,234.25 155.2,233.5C157.13,232.75 159.05,231.23 161,229.7C162.95,228.17 164.95,226.05 166.9,224.3C168.85,222.55 170.75,220.67 172.7,219.2C174.65,217.73 176.65,216.4 178.6,215.5C180.55,214.6 182.47,214.08 184.4,213.8C186.33,213.52 188.25,213.55 190.2,213.8C192.15,214.05 194.52,214.93 196.1,215.3C197.68,215.67 198.25,216.03 199.7,216C201.15,215.97 203.22,215.23 204.8,215.1C206.38,214.97 207.73,214.77 209.2,215.2C210.67,215.63 212.38,216.48 213.6,217.7C214.82,218.92 215.58,220.62 216.5,222.5C217.42,224.38 217.93,225.85 219.1,229C220.27,232.15 222.03,237.27 223.5,241.4C224.97,245.53 226.43,249.67 227.9,253.8C229.37,257.93 230.83,262.55 232.3,266.2C233.77,269.85 235.25,273.15 236.7,275.7C238.15,278.25 239.67,280.33 241,281.5C242.33,282.67 243.23,282.82 244.7,282.7C246.17,282.58 247.98,281.77 249.8,280.8C251.62,279.83 253.65,278.05 255.6,276.9C257.55,275.75 259.55,274.48 261.5,273.9C263.45,273.32 264.87,273.47 267.3,273.4C269.73,273.33 273.18,273.47 276.1,273.5C279.02,273.53 282.37,273.77 284.8,273.6C287.23,273.43 288.98,273.25 290.7,272.5C292.42,271.75 293.65,270.48 295.1,269.1C296.55,267.72 298.28,265.55 299.4,264.2C300.52,262.85 300.42,262.25 301.8,261C303.18,259.75 305.75,257.6 307.7,256.7C309.65,255.8 311.8,256.03 313.5,255.6C315.2,255.17 316.43,254.4 317.9,254.1C319.37,253.8 320.9,253.37 322.3,253.8C323.7,254.23 324.97,254.83 326.3,256.7C327.63,258.57 328.78,261.22 330.3,265C331.82,268.78 333.82,274.57 335.4,279.4C336.98,284.23 338.33,289.37 339.8,294C341.27,298.63 342.73,303.3 344.2,307.2C345.67,311.1 347.27,315.02 348.6,317.4C349.93,319.78 350.98,321.07 352.2,321.5C353.42,321.93 354.8,321.67 355.9,320C357,318.33 357.83,314.85 358.8,311.5C359.77,308.15 360.73,304.27 361.7,299.9C362.67,295.53 363.63,290.42 364.6,285.3C365.57,280.18 366.52,274.32 367.5,269.2C368.48,264.08 369.52,258.73 370.5,254.6C371.48,250.47 372.43,246.72 373.4,244.4C374.37,242.08 375.42,241.43 376.3,240.7C377.18,239.97 377.52,239.35 378.7,240C379.88,240.65 381.88,242.87 383.4,244.6C384.92,246.33 386.33,248.47 387.8,250.4C389.27,252.33 390.77,254.52 392.2,256.2C393.63,257.88 394.97,259.17 396.4,260.5C397.83,261.83 399.08,263.13 400.8,264.2C402.52,265.27 404.5,266.22 406.7,266.9C408.9,267.58 411.57,267.98 414,268.3C416.43,268.62 418.87,268.77 421.3,268.8C423.73,268.83 426.17,268.7 428.6,268.5C431.03,268.3 433.72,267.82 435.9,267.6C438.08,267.38 440,267.25 441.7,267.2C443.4,267.15 444.4,266.95 446.1,267.3C447.8,267.65 449.95,268.52 451.9,269.3C453.85,270.08 455.87,271.28 457.8,272C459.73,272.72 461.93,273.38 463.5,273.6C465.07,273.82 465.98,273.97 467.2,273.3C468.42,272.63 469.47,271.52 470.8,269.6C472.13,267.68 473.73,265.05 475.2,261.8C476.67,258.55 478.13,254.25 479.6,250.1C481.07,245.95 482.55,241.03 484,236.9C485.45,232.77 486.97,228.1 488.3,225.3C489.63,222.5 490.78,221.2 492,220.1C493.22,219 494.38,218.45 495.6,218.7C496.82,218.95 497.83,219.65 499.3,221.6C500.77,223.55 502.82,227.8 504.4,230.4C505.98,233 507.33,235.5 508.8,237.2C510.27,238.9 511.98,239.97 513.2,240.6C514.42,241.23 514.88,241.37 516.1,241C517.32,240.63 518.8,239.8 520.5,238.4C522.2,237 524.6,234.07 526.3,232.6C528,231.13 529.37,230.22 530.7,229.6C532.03,228.98 532.9,228.63 534.3,228.9C535.7,229.17 537.57,229.88 539.1,231.2C540.63,232.52 542.1,234.58 543.5,236.8C544.9,239.02 546.1,241.63 547.5,244.5C548.9,247.37 550.43,250.53 551.9,254C553.37,257.47 554.83,261.5 556.3,265.3C557.77,269.1 559.25,273.23 560.7,276.8C562.15,280.37 563.83,284.43 565,286.7C566.17,288.97 566.92,289.67 567.7,290.4C568.48,291.13 568.8,291.72 569.7,291.1C570.6,290.48 572.05,289.13 573.1,286.7C574.15,284.27 575.03,280.53 576,276.5C576.97,272.47 578.05,266.42 578.9,262.5C579.75,258.58 580.47,255.05 581.1,253C581.73,250.95 581.97,249.8 582.7,250.2C583.43,250.6 584.58,252.6 585.5,255.4C586.42,258.2 587.23,261.53 588.2,267C589.17,272.47 590.17,281.27 591.3,288.2C592.43,295.13 593.78,302.88 595,308.6C596.22,314.32 597.52,319.9 598.6,322.5C599.68,325.1 600.4,325.3 601.5,324.2C602.6,323.1 603.98,319.95 605.2,315.9C606.42,311.85 607.75,305.25 608.8,299.9C609.85,294.55 611.05,286.48 611.5,283.8" fill="none" stroke="#000" stroke-width="1.9" stroke-linejoin="round"/>
<text transform="translate(595.3,193.6) scale(1.02,1)" font-size="17.0" text-anchor="middle" fill="#000" stroke="#000" stroke-width="0.3">n=4</text>
</g>
<rect x="37.6" y="174.6" width="589.1" height="161.3" fill="none" stroke="#333333" stroke-width="1.1"/>
<rect x="626.7" y="174.6" width="55.2" height="161.3" fill="#d9d9d9" stroke="#333333" stroke-width="1.1"/>
<text transform="translate(658.4,253.25) rotate(90) scale(1,1.04)" font-size="19.7" font-weight="bold" text-anchor="middle" fill="#1a1a1a">air</text>
<text transform="translate(636.6,255.25) rotate(90) scale(1,1.04)" font-size="20.35" font-weight="bold" text-anchor="middle" fill="#1a1a1a">temperture</text>
<line x1="32.3" x2="37.6" y1="187.4" y2="187.4" stroke="#333333" stroke-width="1.5"/>
<text transform="translate(28.6,192.3) scale(0.99,1)" font-size="13.7" text-anchor="end" fill="#262626" stroke="#262626" stroke-width="0.3">2</text>
<line x1="32.3" x2="37.6" y1="216.2" y2="216.2" stroke="#333333" stroke-width="1.5"/>
<text transform="translate(28.6,221.1) scale(0.99,1)" font-size="13.7" text-anchor="end" fill="#262626" stroke="#262626" stroke-width="0.3">1</text>
<line x1="32.3" x2="37.6" y1="245" y2="245" stroke="#333333" stroke-width="1.5"/>
<text transform="translate(28.6,249.9) scale(0.99,1)" font-size="13.7" text-anchor="end" fill="#262626" stroke="#262626" stroke-width="0.3">0</text>
<line x1="32.3" x2="37.6" y1="273.8" y2="273.8" stroke="#333333" stroke-width="1.5"/>
<text transform="translate(28.6,278.7) scale(0.99,1)" font-size="13.7" text-anchor="end" fill="#262626" stroke="#262626" stroke-width="0.3">-1</text>
<line x1="32.3" x2="37.6" y1="302.6" y2="302.6" stroke="#333333" stroke-width="1.5"/>
<text transform="translate(28.6,307.5) scale(0.99,1)" font-size="13.7" text-anchor="end" fill="#262626" stroke="#262626" stroke-width="0.3">-2</text>
<line x1="32.3" x2="37.6" y1="331.4" y2="331.4" stroke="#333333" stroke-width="1.5"/>
<text transform="translate(28.6,336.3) scale(0.99,1)" font-size="13.7" text-anchor="end" fill="#262626" stroke="#262626" stroke-width="0.3">-3</text>
</g>
<g>
<clipPath id="c2"><rect x="37.6" y="346.4" width="589.1" height="161.1"/></clipPath>
<g clip-path="url(#c2)">
<line x1="37.6" x2="626.7" y1="482.2" y2="482.2" stroke="#ebebeb" stroke-width="1.0"/>
<line x1="37.6" x2="626.7" y1="445.4" y2="445.4" stroke="#ebebeb" stroke-width="1.0"/>
<line x1="37.6" x2="626.7" y1="408.6" y2="408.6" stroke="#ebebeb" stroke-width="1.0"/>
<line x1="37.6" x2="626.7" y1="371.8" y2="371.8" stroke="#ebebeb" stroke-width="1.0"/>
<line x1="68.04" x2="68.04" y1="346.4" y2="507.5" stroke="#ebebeb" stroke-width="1.0"/>
<line x1="84.03" x2="84.03" y1="346.4" y2="507.5" stroke="#ebebeb" stroke-width="1.0"/>
<line x1="100.02" x2="100.02" y1="346.4" y2="507.5" stroke="#ebebeb" stroke-width="1.0"/>
<line x1="116.01" x2="116.01" y1="346.4" y2="507.5" stroke="#ebebeb" stroke-width="1.0"/>
<line x1="147.99" x2="147.99" y1="346.4" y2="507.5" stroke="#ebebeb" stroke-width="1.0"/>
<line x1="163.98" x2="163.98" y1="346.4" y2="507.5" stroke="#ebebeb" stroke-width="1.0"/>
<line x1="179.97" x2="179.97" y1="346.4" y2="507.5" stroke="#ebebeb" stroke-width="1.0"/>
<line x1="195.96" x2="195.96" y1="346.4" y2="507.5" stroke="#ebebeb" stroke-width="1.0"/>
<line x1="227.94" x2="227.94" y1="346.4" y2="507.5" stroke="#ebebeb" stroke-width="1.0"/>
<line x1="243.93" x2="243.93" y1="346.4" y2="507.5" stroke="#ebebeb" stroke-width="1.0"/>
<line x1="259.92" x2="259.92" y1="346.4" y2="507.5" stroke="#ebebeb" stroke-width="1.0"/>
<line x1="275.91" x2="275.91" y1="346.4" y2="507.5" stroke="#ebebeb" stroke-width="1.0"/>
<line x1="307.89" x2="307.89" y1="346.4" y2="507.5" stroke="#ebebeb" stroke-width="1.0"/>
<line x1="323.88" x2="323.88" y1="346.4" y2="507.5" stroke="#ebebeb" stroke-width="1.0"/>
<line x1="339.87" x2="339.87" y1="346.4" y2="507.5" stroke="#ebebeb" stroke-width="1.0"/>
<line x1="355.86" x2="355.86" y1="346.4" y2="507.5" stroke="#ebebeb" stroke-width="1.0"/>
<line x1="387.84" x2="387.84" y1="346.4" y2="507.5" stroke="#ebebeb" stroke-width="1.0"/>
<line x1="403.83" x2="403.83" y1="346.4" y2="507.5" stroke="#ebebeb" stroke-width="1.0"/>
<line x1="419.82" x2="419.82" y1="346.4" y2="507.5" stroke="#ebebeb" stroke-width="1.0"/>
<line x1="435.81" x2="435.81" y1="346.4" y2="507.5" stroke="#ebebeb" stroke-width="1.0"/>
<line x1="467.79" x2="467.79" y1="346.4" y2="507.5" stroke="#ebebeb" stroke-width="1.0"/>
<line x1="483.78" x2="483.78" y1="346.4" y2="507.5" stroke="#ebebeb" stroke-width="1.0"/>
<line x1="499.77" x2="499.77" y1="346.4" y2="507.5" stroke="#ebebeb" stroke-width="1.0"/>
<line x1="515.76" x2="515.76" y1="346.4" y2="507.5" stroke="#ebebeb" stroke-width="1.0"/>
<line x1="547.74" x2="547.74" y1="346.4" y2="507.5" stroke="#ebebeb" stroke-width="1.0"/>
<line x1="563.73" x2="563.73" y1="346.4" y2="507.5" stroke="#ebebeb" stroke-width="1.0"/>
<line x1="579.72" x2="579.72" y1="346.4" y2="507.5" stroke="#ebebeb" stroke-width="1.0"/>
<line x1="595.71" x2="595.71" y1="346.4" y2="507.5" stroke="#ebebeb" stroke-width="1.0"/>
<line x1="37.6" x2="626.7" y1="500.6" y2="500.6" stroke="#ebebeb" stroke-width="1.6"/>
<line x1="37.6" x2="626.7" y1="463.8" y2="463.8" stroke="#ebebeb" stroke-width="1.6"/>
<line x1="37.6" x2="626.7" y1="427" y2="427" stroke="#ebebeb" stroke-width="1.6"/>
<line x1="37.6" x2="626.7" y1="390.2" y2="390.2" stroke="#ebebeb" stroke-width="1.6"/>
<line x1="37.6" x2="626.7" y1="353.4" y2="353.4" stroke="#ebebeb" stroke-width="1.6"/>
<line x1="52.05" x2="52.05" y1="346.4" y2="507.5" stroke="#a8a8a8" stroke-width="1.5"/>
<line x1="132" x2="132" y1="346.4" y2="507.5" stroke="#a8a8a8" stroke-width="1.5"/>
<line x1="211.95" x2="211.95" y1="346.4" y2="507.5" stroke="#a8a8a8" stroke-width="1.5"/>
<line x1="291.9" x2="291.9" y1="346.4" y2="507.5" stroke="#a8a8a8" stroke-width="1.5"/>
<line x1="371.85" x2="371.85" y1="346.4" y2="507.5" stroke="#a8a8a8" stroke-width="1.5"/>
<line x1="451.8" x2="451.8" y1="346.4" y2="507.5" stroke="#a8a8a8" stroke-width="1.5"/>
<line x1="531.75" x2="531.75" y1="346.4" y2="507.5" stroke="#a8a8a8" stroke-width="1.5"/>
<line x1="611.7" x2="611.7" y1="346.4" y2="507.5" stroke="#a8a8a8" stroke-width="1.5"/>
<rect x="44.75" y="353.4" width="14.6" height="49.28" fill="#c5e67b"/>
<rect x="44.75" y="401.98" width="14.6" height="98.62" fill="#f08622"/>
<rect x="60.74" y="353.4" width="14.6" height="49.28" fill="#c5e67b"/>
<rect x="60.74" y="401.98" width="14.6" height="98.62" fill="#f08622"/>
<rect x="76.73" y="353.4" width="14.6" height="49.28" fill="#c5e67b"/>
<rect x="76.73" y="401.98" width="14.6" height="98.62" fill="#f08622"/>
<rect x="92.72" y="353.4" width="14.6" height="49.28" fill="#c5e67b"/>
<rect x="92.72" y="401.98" width="14.6" height="98.62" fill="#f08622"/>
<rect x="108.71" y="353.4" width="14.6" height="49.28" fill="#c5e67b"/>
<rect x="108.71" y="401.98" width="14.6" height="98.62" fill="#f08622"/>
<rect x="124.7" y="353.4" width="14.6" height="54.87" fill="#c5e67b"/>
<rect x="124.7" y="407.57" width="14.6" height="93.03" fill="#f08622"/>
<rect x="140.69" y="353.4" width="14.6" height="54.87" fill="#c5e67b"/>
<rect x="140.69" y="407.57" width="14.6" height="93.03" fill="#f08622"/>
<rect x="156.68" y="353.4" width="14.6" height="37.94" fill="#c5e67b"/>
<rect x="156.68" y="390.64" width="14.6" height="109.96" fill="#f08622"/>
<rect x="172.67" y="353.4" width="14.6" height="37.65" fill="#c5e67b"/>
<rect x="172.67" y="390.35" width="14.6" height="4.23" fill="#a3cf5d"/>
<rect x="172.67" y="393.88" width="14.6" height="106.72" fill="#f08622"/>
<rect x="188.66" y="353.4" width="14.6" height="37.65" fill="#c5e67b"/>
<rect x="188.66" y="390.35" width="14.6" height="4.23" fill="#a3cf5d"/>
<rect x="188.66" y="393.88" width="14.6" height="106.72" fill="#f08622"/>
<rect x="204.65" y="353.4" width="14.6" height="43.39" fill="#c5e67b"/>
<rect x="204.65" y="396.09" width="14.6" height="17.19" fill="#a3cf5d"/>
<rect x="204.65" y="412.57" width="14.6" height="88.03" fill="#f08622"/>
<rect x="220.64" y="353.4" width="14.6" height="36.47" fill="#c5e67b"/>
<rect x="220.64" y="389.17" width="14.6" height="10.56" fill="#a3cf5d"/>
<rect x="220.64" y="399.03" width="14.6" height="101.57" fill="#f08622"/>
<rect x="236.63" y="353.4" width="14.6" height="37.94" fill="#c5e67b"/>
<rect x="236.63" y="390.64" width="14.6" height="12.77" fill="#a3cf5d"/>
<rect x="236.63" y="402.71" width="14.6" height="97.89" fill="#f08622"/>
<rect x="252.62" y="353.4" width="14.6" height="63.11" fill="#c5e67b"/>
<rect x="252.62" y="415.81" width="14.6" height="9.68" fill="#a3cf5d"/>
<rect x="252.62" y="424.79" width="14.6" height="75.81" fill="#f08622"/>
<rect x="268.61" y="353.4" width="14.6" height="92.55" fill="#c5e67b"/>
<rect x="268.61" y="445.25" width="14.6" height="3.2" fill="#a3cf5d"/>
<rect x="268.61" y="447.76" width="14.6" height="51.34" fill="#f08622"/>
<rect x="268.61" y="498.39" width="14.6" height="0.99" fill="#d0680b"/>
<rect x="268.61" y="498.69" width="14.6" height="1.91" fill="#884507"/>
<rect x="284.6" y="353.4" width="14.6" height="97.12" fill="#c5e67b"/>
<rect x="284.6" y="449.82" width="14.6" height="2.47" fill="#a3cf5d"/>
<rect x="284.6" y="451.58" width="14.6" height="46.48" fill="#f08622"/>
<rect x="284.6" y="497.36" width="14.6" height="1.29" fill="#d0680b"/>
<rect x="284.6" y="497.95" width="14.6" height="2.65" fill="#884507"/>
<rect x="300.59" y="353.4" width="14.6" height="91.67" fill="#c5e67b"/>
<rect x="300.59" y="444.37" width="14.6" height="3.06" fill="#a3cf5d"/>
<rect x="300.59" y="446.72" width="14.6" height="49.13" fill="#f08622"/>
<rect x="300.59" y="495.15" width="14.6" height="2.61" fill="#d0680b"/>
<rect x="300.59" y="497.07" width="14.6" height="3.53" fill="#884507"/>
<rect x="316.58" y="353.4" width="14.6" height="80.63" fill="#c5e67b"/>
<rect x="316.58" y="433.33" width="14.6" height="5.26" fill="#a3cf5d"/>
<rect x="316.58" y="437.89" width="14.6" height="55.9" fill="#f08622"/>
<rect x="316.58" y="493.09" width="14.6" height="5.56" fill="#d0680b"/>
<rect x="316.58" y="497.95" width="14.6" height="2.65" fill="#884507"/>
<rect x="332.57" y="353.4" width="14.6" height="87.25" fill="#c5e67b"/>
<rect x="332.57" y="439.95" width="14.6" height="9.83" fill="#a3cf5d"/>
<rect x="332.57" y="449.08" width="14.6" height="44.71" fill="#f08622"/>
<rect x="332.57" y="493.09" width="14.6" height="6" fill="#d0680b"/>
<rect x="332.57" y="498.39" width="14.6" height="2.21" fill="#884507"/>
<rect x="348.56" y="353.4" width="14.6" height="78.27" fill="#c5e67b"/>
<rect x="348.56" y="430.97" width="14.6" height="12.03" fill="#a3cf5d"/>
<rect x="348.56" y="442.31" width="14.6" height="47.66" fill="#f08622"/>
<rect x="348.56" y="489.27" width="14.6" height="10.56" fill="#d0680b"/>
<rect x="348.56" y="499.13" width="14.6" height="1.47" fill="#884507"/>
<rect x="364.55" y="353.4" width="14.6" height="74.3" fill="#c5e67b"/>
<rect x="364.55" y="427" width="14.6" height="9.09" fill="#a3cf5d"/>
<rect x="364.55" y="435.39" width="14.6" height="57.08" fill="#f08622"/>
<rect x="364.55" y="491.77" width="14.6" height="8.83" fill="#d0680b"/>
<rect x="364.55" y="500.01" width="14.6" height="0.59" fill="#884507"/>
<rect x="380.54" y="353.4" width="14.6" height="38.09" fill="#c5e67b"/>
<rect x="380.54" y="390.79" width="14.6" height="30.73" fill="#a3cf5d"/>
<rect x="380.54" y="420.82" width="14.6" height="68.71" fill="#f08622"/>
<rect x="380.54" y="488.82" width="14.6" height="11.78" fill="#d0680b"/>
<rect x="380.54" y="500.16" width="14.6" height="0.44" fill="#884507"/>
<rect x="396.53" y="353.4" width="14.6" height="22.19" fill="#c5e67b"/>
<rect x="396.53" y="374.89" width="14.6" height="45.6" fill="#a3cf5d"/>
<rect x="396.53" y="419.79" width="14.6" height="74.74" fill="#f08622"/>
<rect x="396.53" y="493.83" width="14.6" height="5.7" fill="#d0680b"/>
<rect x="396.53" y="498.83" width="14.6" height="1.77" fill="#884507"/>
<rect x="412.52" y="353.4" width="14.6" height="20.13" fill="#c5e67b"/>
<rect x="412.52" y="372.83" width="14.6" height="66.06" fill="#a3cf5d"/>
<rect x="412.52" y="438.19" width="14.6" height="60.76" fill="#f08622"/>
<rect x="412.52" y="498.24" width="14.6" height="2.36" fill="#d0680b"/>
<rect x="428.51" y="353.4" width="14.6" height="19.69" fill="#c5e67b"/>
<rect x="428.51" y="372.39" width="14.6" height="57.67" fill="#a3cf5d"/>
<rect x="428.51" y="429.36" width="14.6" height="70.47" fill="#f08622"/>
<rect x="428.51" y="499.13" width="14.6" height="1.47" fill="#d0680b"/>
<rect x="444.5" y="353.4" width="14.6" height="19.98" fill="#c5e67b"/>
<rect x="444.5" y="372.68" width="14.6" height="83.72" fill="#a3cf5d"/>
<rect x="444.5" y="455.7" width="14.6" height="44.12" fill="#f08622"/>
<rect x="444.5" y="499.13" width="14.6" height="1.47" fill="#d0680b"/>
<rect x="460.49" y="353.4" width="14.6" height="22.19" fill="#c5e67b"/>
<rect x="460.49" y="374.89" width="14.6" height="76.66" fill="#a3cf5d"/>
<rect x="460.49" y="450.85" width="14.6" height="46.77" fill="#f08622"/>
<rect x="460.49" y="496.92" width="14.6" height="3.68" fill="#d0680b"/>
<rect x="476.48" y="353.4" width="14.6" height="30.43" fill="#c5e67b"/>
<rect x="476.48" y="383.13" width="14.6" height="74.59" fill="#a3cf5d"/>
<rect x="476.48" y="457.03" width="14.6" height="34.41" fill="#f08622"/>
<rect x="476.48" y="490.74" width="14.6" height="9.86" fill="#d0680b"/>
<rect x="492.47" y="353.4" width="14.6" height="38.09" fill="#c5e67b"/>
<rect x="492.47" y="390.79" width="14.6" height="40.89" fill="#a3cf5d"/>
<rect x="492.47" y="430.97" width="14.6" height="60.46" fill="#f08622"/>
<rect x="492.47" y="490.74" width="14.6" height="9.86" fill="#d0680b"/>
<rect x="508.46" y="353.4" width="14.6" height="38.09" fill="#c5e67b"/>
<rect x="508.46" y="390.79" width="14.6" height="40.89" fill="#a3cf5d"/>
<rect x="508.46" y="430.97" width="14.6" height="60.46" fill="#f08622"/>
<rect x="508.46" y="490.74" width="14.6" height="9.86" fill="#d0680b"/>
<rect x="524.45" y="353.4" width="14.6" height="4.38" fill="#ece135"/>
<rect x="524.45" y="357.08" width="14.6" height="32.05" fill="#c5e67b"/>
<rect x="524.45" y="388.43" width="14.6" height="37.35" fill="#a3cf5d"/>
<rect x="524.45" y="425.09" width="14.6" height="61.49" fill="#f08622"/>
<rect x="524.45" y="485.88" width="14.6" height="10.56" fill="#d0680b"/>
<rect x="524.45" y="495.74" width="14.6" height="4.86" fill="#884507"/>
<rect x="540.44" y="353.4" width="14.6" height="4.38" fill="#ece135"/>
<rect x="540.44" y="357.08" width="14.6" height="2.02" fill="#c5e67b"/>
<rect x="540.44" y="358.4" width="14.6" height="111.39" fill="#a3cf5d"/>
<rect x="540.44" y="469.1" width="14.6" height="27.78" fill="#f08622"/>
<rect x="540.44" y="496.18" width="14.6" height="4.42" fill="#884507"/>
<rect x="556.43" y="353.4" width="14.6" height="2.47" fill="#ece135"/>
<rect x="556.43" y="355.17" width="14.6" height="1.29" fill="#c5e67b"/>
<rect x="556.43" y="355.76" width="14.6" height="108.16" fill="#a3cf5d"/>
<rect x="556.43" y="463.21" width="14.6" height="33.23" fill="#f08622"/>
<rect x="556.43" y="495.74" width="14.6" height="3.79" fill="#d0680b"/>
<rect x="556.43" y="498.83" width="14.6" height="1.77" fill="#884507"/>
<rect x="572.42" y="353.4" width="14.6" height="107.42" fill="#a3cf5d"/>
<rect x="572.42" y="460.12" width="14.6" height="37.94" fill="#f08622"/>
<rect x="572.42" y="497.36" width="14.6" height="3.24" fill="#d0680b"/>
<rect x="588.41" y="353.4" width="14.6" height="16.01" fill="#ece135"/>
<rect x="588.41" y="368.71" width="14.6" height="67.97" fill="#a3cf5d"/>
<rect x="588.41" y="435.98" width="14.6" height="60.46" fill="#f08622"/>
<rect x="588.41" y="495.74" width="14.6" height="3.2" fill="#d0680b"/>
<rect x="588.41" y="498.24" width="14.6" height="2.36" fill="#884507"/>
</g>
<rect x="37.6" y="346.4" width="589.1" height="161.1" fill="none" stroke="#333333" stroke-width="1.1"/>
<rect x="626.7" y="346.4" width="55.2" height="161.1" fill="#d9d9d9" stroke="#333333" stroke-width="1.1"/>
<text transform="translate(646.9,426.95) rotate(90) scale(1,1.04)" font-size="20.35" font-weight="bold" text-anchor="middle" fill="#1a1a1a">proportion</text>
<line x1="32.3" x2="37.6" y1="500.6" y2="500.6" stroke="#333333" stroke-width="1.5"/>
<text transform="translate(28.6,505.5) scale(0.99,1)" font-size="13.7" text-anchor="end" fill="#262626" stroke="#262626" stroke-width="0.3">0</text>
<line x1="32.3" x2="37.6" y1="463.8" y2="463.8" stroke="#333333" stroke-width="1.5"/>
<text transform="translate(28.6,468.7) scale(0.99,1)" font-size="13.7" text-anchor="end" fill="#262626" stroke="#262626" stroke-width="0.3">25</text>
<line x1="32.3" x2="37.6" y1="427" y2="427" stroke="#333333" stroke-width="1.5"/>
<text transform="translate(28.6,431.9) scale(0.99,1)" font-size="13.7" text-anchor="end" fill="#262626" stroke="#262626" stroke-width="0.3">50</text>
<line x1="32.3" x2="37.6" y1="390.2" y2="390.2" stroke="#333333" stroke-width="1.5"/>
<text transform="translate(28.6,395.1) scale(0.99,1)" font-size="13.7" text-anchor="end" fill="#262626" stroke="#262626" stroke-width="0.3">75</text>
<line x1="32.3" x2="37.6" y1="353.4" y2="353.4" stroke="#333333" stroke-width="1.5"/>
<text transform="translate(28.6,358.3) scale(0.99,1)" font-size="13.7" text-anchor="end" fill="#262626" stroke="#262626" stroke-width="0.3">100</text>
</g>
<g>
<clipPath id="c3"><rect x="37.6" y="517.4" width="589.1" height="161.6"/></clipPath>
<g clip-path="url(#c3)">
<line x1="37.6" x2="626.7" y1="653.4" y2="653.4" stroke="#ebebeb" stroke-width="1.0"/>
<line x1="37.6" x2="626.7" y1="616.6" y2="616.6" stroke="#ebebeb" stroke-width="1.0"/>
<line x1="37.6" x2="626.7" y1="579.8" y2="579.8" stroke="#ebebeb" stroke-width="1.0"/>
<line x1="37.6" x2="626.7" y1="543" y2="543" stroke="#ebebeb" stroke-width="1.0"/>
<line x1="68.04" x2="68.04" y1="517.4" y2="679" stroke="#ebebeb" stroke-width="1.0"/>
<line x1="84.03" x2="84.03" y1="517.4" y2="679" stroke="#ebebeb" stroke-width="1.0"/>
<line x1="100.02" x2="100.02" y1="517.4" y2="679" stroke="#ebebeb" stroke-width="1.0"/>
<line x1="116.01" x2="116.01" y1="517.4" y2="679" stroke="#ebebeb" stroke-width="1.0"/>
<line x1="147.99" x2="147.99" y1="517.4" y2="679" stroke="#ebebeb" stroke-width="1.0"/>
<line x1="163.98" x2="163.98" y1="517.4" y2="679" stroke="#ebebeb" stroke-width="1.0"/>
<line x1="179.97" x2="179.97" y1="517.4" y2="679" stroke="#ebebeb" stroke-width="1.0"/>
<line x1="195.96" x2="195.96" y1="517.4" y2="679" stroke="#ebebeb" stroke-width="1.0"/>
<line x1="227.94" x2="227.94" y1="517.4" y2="679" stroke="#ebebeb" stroke-width="1.0"/>
<line x1="243.93" x2="243.93" y1="517.4" y2="679" stroke="#ebebeb" stroke-width="1.0"/>
<line x1="259.92" x2="259.92" y1="517.4" y2="679" stroke="#ebebeb" stroke-width="1.0"/>
<line x1="275.91" x2="275.91" y1="517.4" y2="679" stroke="#ebebeb" stroke-width="1.0"/>
<line x1="307.89" x2="307.89" y1="517.4" y2="679" stroke="#ebebeb" stroke-width="1.0"/>
<line x1="323.88" x2="323.88" y1="517.4" y2="679" stroke="#ebebeb" stroke-width="1.0"/>
<line x1="339.87" x2="339.87" y1="517.4" y2="679" stroke="#ebebeb" stroke-width="1.0"/>
<line x1="355.86" x2="355.86" y1="517.4" y2="679" stroke="#ebebeb" stroke-width="1.0"/>
<line x1="387.84" x2="387.84" y1="517.4" y2="679" stroke="#ebebeb" stroke-width="1.0"/>
<line x1="403.83" x2="403.83" y1="517.4" y2="679" stroke="#ebebeb" stroke-width="1.0"/>
<line x1="419.82" x2="419.82" y1="517.4" y2="679" stroke="#ebebeb" stroke-width="1.0"/>
<line x1="435.81" x2="435.81" y1="517.4" y2="679" stroke="#ebebeb" stroke-width="1.0"/>
<line x1="467.79" x2="467.79" y1="517.4" y2="679" stroke="#ebebeb" stroke-width="1.0"/>
<line x1="483.78" x2="483.78" y1="517.4" y2="679" stroke="#ebebeb" stroke-width="1.0"/>
<line x1="499.77" x2="499.77" y1="517.4" y2="679" stroke="#ebebeb" stroke-width="1.0"/>
<line x1="515.76" x2="515.76" y1="517.4" y2="679" stroke="#ebebeb" stroke-width="1.0"/>
<line x1="547.74" x2="547.74" y1="517.4" y2="679" stroke="#ebebeb" stroke-width="1.0"/>
<line x1="563.73" x2="563.73" y1="517.4" y2="679" stroke="#ebebeb" stroke-width="1.0"/>
<line x1="579.72" x2="579.72" y1="517.4" y2="679" stroke="#ebebeb" stroke-width="1.0"/>
<line x1="595.71" x2="595.71" y1="517.4" y2="679" stroke="#ebebeb" stroke-width="1.0"/>
<line x1="37.6" x2="626.7" y1="671.8" y2="671.8" stroke="#ebebeb" stroke-width="1.6"/>
<line x1="37.6" x2="626.7" y1="635" y2="635" stroke="#ebebeb" stroke-width="1.6"/>
<line x1="37.6" x2="626.7" y1="598.2" y2="598.2" stroke="#ebebeb" stroke-width="1.6"/>
<line x1="37.6" x2="626.7" y1="561.4" y2="561.4" stroke="#ebebeb" stroke-width="1.6"/>
<line x1="37.6" x2="626.7" y1="524.6" y2="524.6" stroke="#ebebeb" stroke-width="1.6"/>
<line x1="52.05" x2="52.05" y1="517.4" y2="679" stroke="#a8a8a8" stroke-width="1.5"/>
<line x1="132" x2="132" y1="517.4" y2="679" stroke="#a8a8a8" stroke-width="1.5"/>
<line x1="211.95" x2="211.95" y1="517.4" y2="679" stroke="#a8a8a8" stroke-width="1.5"/>
<line x1="291.9" x2="291.9" y1="517.4" y2="679" stroke="#a8a8a8" stroke-width="1.5"/>
<line x1="371.85" x2="371.85" y1="517.4" y2="679" stroke="#a8a8a8" stroke-width="1.5"/>
<line x1="451.8" x2="451.8" y1="517.4" y2="679" stroke="#a8a8a8" stroke-width="1.5"/>
<line x1="531.75" x2="531.75" y1="517.4" y2="679" stroke="#a8a8a8" stroke-width="1.5"/>
<line x1="611.7" x2="611.7" y1="517.4" y2="679" stroke="#a8a8a8" stroke-width="1.5"/>
<rect x="44.75" y="524.6" width="14.6" height="59.73" fill="#c5e67b"/>
<rect x="44.75" y="583.63" width="14.6" height="71.8" fill="#f08622"/>
<rect x="44.75" y="654.72" width="14.6" height="12.48" fill="#d0680b"/>
<rect x="44.75" y="666.5" width="14.6" height="5.3" fill="#884507"/>
<rect x="60.74" y="524.6" width="14.6" height="59.73" fill="#c5e67b"/>
<rect x="60.74" y="583.63" width="14.6" height="71.8" fill="#f08622"/>
<rect x="60.74" y="654.72" width="14.6" height="12.48" fill="#d0680b"/>
<rect x="60.74" y="666.5" width="14.6" height="5.3" fill="#884507"/>
<rect x="76.73" y="524.6" width="14.6" height="59.73" fill="#c5e67b"/>
<rect x="76.73" y="583.63" width="14.6" height="71.8" fill="#f08622"/>
<rect x="76.73" y="654.72" width="14.6" height="12.48" fill="#d0680b"/>
<rect x="76.73" y="666.5" width="14.6" height="5.3" fill="#884507"/>
<rect x="92.72" y="524.6" width="14.6" height="59.73" fill="#c5e67b"/>
<rect x="92.72" y="583.63" width="14.6" height="71.8" fill="#f08622"/>
<rect x="92.72" y="654.72" width="14.6" height="12.48" fill="#d0680b"/>
<rect x="92.72" y="666.5" width="14.6" height="5.3" fill="#884507"/>
<rect x="108.71" y="524.6" width="14.6" height="59.73" fill="#c5e67b"/>
<rect x="108.71" y="583.63" width="14.6" height="71.8" fill="#f08622"/>
<rect x="108.71" y="654.72" width="14.6" height="12.48" fill="#d0680b"/>
<rect x="108.71" y="666.5" width="14.6" height="5.3" fill="#884507"/>
<rect x="124.7" y="524.6" width="14.6" height="52.22" fill="#c5e67b"/>
<rect x="124.7" y="576.12" width="14.6" height="13.51" fill="#a3cf5d"/>
<rect x="124.7" y="588.93" width="14.6" height="69.15" fill="#f08622"/>
<rect x="124.7" y="657.37" width="14.6" height="4.97" fill="#d0680b"/>
<rect x="124.7" y="661.64" width="14.6" height="10.16" fill="#884507"/>
<rect x="140.69" y="524.6" width="14.6" height="52.22" fill="#c5e67b"/>
<rect x="140.69" y="576.12" width="14.6" height="16.74" fill="#a3cf5d"/>
<rect x="140.69" y="592.16" width="14.6" height="64.29" fill="#f08622"/>
<rect x="140.69" y="655.76" width="14.6" height="6.59" fill="#d0680b"/>
<rect x="140.69" y="661.64" width="14.6" height="10.16" fill="#884507"/>
<rect x="156.68" y="524.6" width="14.6" height="52.22" fill="#c5e67b"/>
<rect x="156.68" y="576.12" width="14.6" height="17.63" fill="#a3cf5d"/>
<rect x="156.68" y="593.05" width="14.6" height="69.3" fill="#f08622"/>
<rect x="156.68" y="661.64" width="14.6" height="2.91" fill="#d0680b"/>
<rect x="156.68" y="663.85" width="14.6" height="7.95" fill="#884507"/>
<rect x="172.67" y="524.6" width="14.6" height="49.57" fill="#c5e67b"/>
<rect x="172.67" y="573.47" width="14.6" height="26.46" fill="#a3cf5d"/>
<rect x="172.67" y="599.23" width="14.6" height="64.29" fill="#f08622"/>
<rect x="172.67" y="662.82" width="14.6" height="2.17" fill="#d0680b"/>
<rect x="172.67" y="664.29" width="14.6" height="7.51" fill="#884507"/>
<rect x="188.66" y="524.6" width="14.6" height="49.57" fill="#c5e67b"/>
<rect x="188.66" y="573.47" width="14.6" height="26.46" fill="#a3cf5d"/>
<rect x="188.66" y="599.23" width="14.6" height="64.29" fill="#f08622"/>
<rect x="188.66" y="662.82" width="14.6" height="2.17" fill="#d0680b"/>
<rect x="188.66" y="664.29" width="14.6" height="7.51" fill="#884507"/>
<rect x="204.65" y="524.6" width="14.6" height="52.22" fill="#c5e67b"/>
<rect x="204.65" y="576.12" width="14.6" height="28.23" fill="#a3cf5d"/>
<rect x="204.65" y="603.65" width="14.6" height="57.22" fill="#f08622"/>
<rect x="204.65" y="660.17" width="14.6" height="2.47" fill="#d0680b"/>
<rect x="204.65" y="661.94" width="14.6" height="9.86" fill="#884507"/>
<rect x="220.64" y="524.6" width="14.6" height="59.87" fill="#c5e67b"/>
<rect x="220.64" y="583.77" width="14.6" height="18.95" fill="#a3cf5d"/>
<rect x="220.64" y="602.03" width="14.6" height="60.76" fill="#f08622"/>
<rect x="220.64" y="662.08" width="14.6" height="3.64" fill="#d0680b"/>
<rect x="220.64" y="665.03" width="14.6" height="6.77" fill="#884507"/>
<rect x="236.63" y="524.6" width="14.6" height="57.08" fill="#c5e67b"/>
<rect x="236.63" y="580.98" width="14.6" height="21.16" fill="#a3cf5d"/>
<rect x="236.63" y="601.44" width="14.6" height="57.22" fill="#f08622"/>
<rect x="236.63" y="657.96" width="14.6" height="3.94" fill="#d0680b"/>
<rect x="236.63" y="661.2" width="14.6" height="10.6" fill="#884507"/>
<rect x="252.62" y="524.6" width="14.6" height="57.96" fill="#c5e67b"/>
<rect x="252.62" y="581.86" width="14.6" height="14.68" fill="#a3cf5d"/>
<rect x="252.62" y="595.84" width="14.6" height="59.73" fill="#f08622"/>
<rect x="252.62" y="654.87" width="14.6" height="5.85" fill="#d0680b"/>
<rect x="252.62" y="660.02" width="14.6" height="11.78" fill="#884507"/>
<rect x="268.61" y="524.6" width="14.6" height="65.17" fill="#c5e67b"/>
<rect x="268.61" y="589.07" width="14.6" height="10.42" fill="#a3cf5d"/>
<rect x="268.61" y="598.79" width="14.6" height="54.87" fill="#f08622"/>
<rect x="268.61" y="652.96" width="14.6" height="5.7" fill="#d0680b"/>
<rect x="268.61" y="657.96" width="14.6" height="13.84" fill="#884507"/>
<rect x="284.6" y="524.6" width="14.6" height="63.85" fill="#c5e67b"/>
<rect x="284.6" y="587.75" width="14.6" height="7.47" fill="#a3cf5d"/>
<rect x="284.6" y="594.52" width="14.6" height="53.25" fill="#f08622"/>
<rect x="284.6" y="647.07" width="14.6" height="13.21" fill="#d0680b"/>
<rect x="284.6" y="659.58" width="14.6" height="12.22" fill="#884507"/>
<rect x="300.59" y="524.6" width="14.6" height="55.16" fill="#c5e67b"/>
<rect x="300.59" y="579.06" width="14.6" height="12.48" fill="#a3cf5d"/>
<rect x="300.59" y="590.84" width="14.6" height="49.86" fill="#f08622"/>
<rect x="300.59" y="640" width="14.6" height="22.63" fill="#d0680b"/>
<rect x="300.59" y="661.94" width="14.6" height="9.86" fill="#884507"/>
<rect x="316.58" y="524.6" width="14.6" height="53.1" fill="#c5e67b"/>
<rect x="316.58" y="577" width="14.6" height="11.3" fill="#a3cf5d"/>
<rect x="316.58" y="587.6" width="14.6" height="50.9" fill="#f08622"/>
<rect x="316.58" y="637.8" width="14.6" height="27.64" fill="#d0680b"/>
<rect x="316.58" y="664.73" width="14.6" height="7.07" fill="#884507"/>
<rect x="332.57" y="524.6" width="14.6" height="46.48" fill="#c5e67b"/>
<rect x="332.57" y="570.38" width="14.6" height="21.46" fill="#a3cf5d"/>
<rect x="332.57" y="591.13" width="14.6" height="47.36" fill="#f08622"/>
<rect x="332.57" y="637.8" width="14.6" height="22.49" fill="#d0680b"/>
<rect x="332.57" y="659.58" width="14.6" height="12.22" fill="#884507"/>
<rect x="348.56" y="524.6" width="14.6" height="43.98" fill="#c5e67b"/>
<rect x="348.56" y="567.88" width="14.6" height="25.43" fill="#a3cf5d"/>
<rect x="348.56" y="592.61" width="14.6" height="45.89" fill="#f08622"/>
<rect x="348.56" y="637.8" width="14.6" height="21.16" fill="#d0680b"/>
<rect x="348.56" y="658.26" width="14.6" height="13.54" fill="#884507"/>
<rect x="364.55" y="524.6" width="14.6" height="39.71" fill="#c5e67b"/>
<rect x="364.55" y="563.61" width="14.6" height="28.82" fill="#a3cf5d"/>
<rect x="364.55" y="591.72" width="14.6" height="48.1" fill="#f08622"/>
<rect x="364.55" y="639.12" width="14.6" height="16.3" fill="#d0680b"/>
<rect x="364.55" y="654.72" width="14.6" height="17.08" fill="#884507"/>
<rect x="380.54" y="524.6" width="14.6" height="2.02" fill="#ece135"/>
<rect x="380.54" y="525.92" width="14.6" height="33.53" fill="#c5e67b"/>
<rect x="380.54" y="558.75" width="14.6" height="42.5" fill="#a3cf5d"/>
<rect x="380.54" y="600.56" width="14.6" height="46.92" fill="#f08622"/>
<rect x="380.54" y="646.78" width="14.6" height="17.78" fill="#d0680b"/>
<rect x="380.54" y="663.85" width="14.6" height="7.95" fill="#884507"/>
<rect x="396.53" y="524.6" width="14.6" height="2.02" fill="#ece135"/>
<rect x="396.53" y="525.92" width="14.6" height="27.49" fill="#c5e67b"/>
<rect x="396.53" y="552.72" width="14.6" height="47.8" fill="#a3cf5d"/>
<rect x="396.53" y="599.82" width="14.6" height="48.83" fill="#f08622"/>
<rect x="396.53" y="647.95" width="14.6" height="14.68" fill="#d0680b"/>
<rect x="396.53" y="661.94" width="14.6" height="9.86" fill="#884507"/>
<rect x="412.52" y="524.6" width="14.6" height="2.02" fill="#ece135"/>
<rect x="412.52" y="525.92" width="14.6" height="26.61" fill="#c5e67b"/>
<rect x="412.52" y="551.83" width="14.6" height="48.69" fill="#a3cf5d"/>
<rect x="412.52" y="599.82" width="14.6" height="48.83" fill="#f08622"/>
<rect x="412.52" y="647.95" width="14.6" height="14.39" fill="#d0680b"/>
<rect x="412.52" y="661.64" width="14.6" height="10.16" fill="#884507"/>
<rect x="428.51" y="524.6" width="14.6" height="2.02" fill="#ece135"/>
<rect x="428.51" y="525.92" width="14.6" height="24.55" fill="#c5e67b"/>
<rect x="428.51" y="549.77" width="14.6" height="52.81" fill="#a3cf5d"/>
<rect x="428.51" y="601.88" width="14.6" height="49.72" fill="#f08622"/>
<rect x="428.51" y="650.9" width="14.6" height="14.54" fill="#d0680b"/>
<rect x="428.51" y="664.73" width="14.6" height="7.07" fill="#884507"/>
<rect x="444.5" y="524.6" width="14.6" height="3.2" fill="#ece135"/>
<rect x="444.5" y="527.1" width="14.6" height="23.37" fill="#c5e67b"/>
<rect x="444.5" y="549.77" width="14.6" height="58.7" fill="#a3cf5d"/>
<rect x="444.5" y="607.77" width="14.6" height="49.42" fill="#f08622"/>
<rect x="444.5" y="656.49" width="14.6" height="11.89" fill="#d0680b"/>
<rect x="444.5" y="667.68" width="14.6" height="4.12" fill="#884507"/>
<rect x="460.49" y="524.6" width="14.6" height="3.2" fill="#ece135"/>
<rect x="460.49" y="527.1" width="14.6" height="24.55" fill="#c5e67b"/>
<rect x="460.49" y="550.95" width="14.6" height="61.05" fill="#a3cf5d"/>
<rect x="460.49" y="611.3" width="14.6" height="52.37" fill="#f08622"/>
<rect x="460.49" y="662.97" width="14.6" height="7.62" fill="#d0680b"/>
<rect x="460.49" y="669.89" width="14.6" height="1.91" fill="#884507"/>
<rect x="476.48" y="524.6" width="14.6" height="34.85" fill="#c5e67b"/>
<rect x="476.48" y="558.75" width="14.6" height="45.89" fill="#a3cf5d"/>
<rect x="476.48" y="603.94" width="14.6" height="35" fill="#f08622"/>
<rect x="476.48" y="638.24" width="14.6" height="23.22" fill="#d0680b"/>
<rect x="476.48" y="660.76" width="14.6" height="11.04" fill="#884507"/>
<rect x="492.47" y="524.6" width="14.6" height="40" fill="#c5e67b"/>
<rect x="492.47" y="563.9" width="14.6" height="42.5" fill="#a3cf5d"/>
<rect x="492.47" y="605.71" width="14.6" height="46.18" fill="#f08622"/>
<rect x="492.47" y="651.19" width="14.6" height="12.48" fill="#d0680b"/>
<rect x="492.47" y="662.97" width="14.6" height="8.83" fill="#884507"/>
<rect x="508.46" y="524.6" width="14.6" height="41.47" fill="#c5e67b"/>
<rect x="508.46" y="565.37" width="14.6" height="36.32" fill="#a3cf5d"/>
<rect x="508.46" y="601" width="14.6" height="46.77" fill="#f08622"/>
<rect x="508.46" y="647.07" width="14.6" height="15.57" fill="#d0680b"/>
<rect x="508.46" y="661.94" width="14.6" height="9.86" fill="#884507"/>
<rect x="524.45" y="524.6" width="14.6" height="13.36" fill="#ece135"/>
<rect x="524.45" y="537.26" width="14.6" height="26.46" fill="#c5e67b"/>
<rect x="524.45" y="563.02" width="14.6" height="26.61" fill="#a3cf5d"/>
<rect x="524.45" y="588.93" width="14.6" height="45.6" fill="#f08622"/>
<rect x="524.45" y="633.82" width="14.6" height="19.84" fill="#d0680b"/>
<rect x="524.45" y="652.96" width="14.6" height="18.84" fill="#884507"/>
<rect x="540.44" y="524.6" width="14.6" height="17.33" fill="#ece135"/>
<rect x="540.44" y="541.23" width="14.6" height="8.8" fill="#c5e67b"/>
<rect x="540.44" y="549.33" width="14.6" height="66.35" fill="#a3cf5d"/>
<rect x="540.44" y="614.98" width="14.6" height="33.67" fill="#f08622"/>
<rect x="540.44" y="647.95" width="14.6" height="8.5" fill="#d0680b"/>
<rect x="540.44" y="655.76" width="14.6" height="16.04" fill="#884507"/>
<rect x="556.43" y="524.6" width="14.6" height="9.24" fill="#ece135"/>
<rect x="556.43" y="533.14" width="14.6" height="6.15" fill="#c5e67b"/>
<rect x="556.43" y="538.58" width="14.6" height="71.8" fill="#a3cf5d"/>
<rect x="556.43" y="609.68" width="14.6" height="43.54" fill="#f08622"/>
<rect x="556.43" y="652.52" width="14.6" height="14.98" fill="#d0680b"/>
<rect x="556.43" y="666.8" width="14.6" height="5" fill="#884507"/>
<rect x="572.42" y="524.6" width="14.6" height="6.15" fill="#c5e67b"/>
<rect x="572.42" y="530.05" width="14.6" height="80.34" fill="#a3cf5d"/>
<rect x="572.42" y="609.68" width="14.6" height="51.78" fill="#f08622"/>
<rect x="572.42" y="660.76" width="14.6" height="11.04" fill="#d0680b"/>
<rect x="588.41" y="524.6" width="14.6" height="18.51" fill="#ece135"/>
<rect x="588.41" y="542.41" width="14.6" height="59.73" fill="#a3cf5d"/>
<rect x="588.41" y="601.44" width="14.6" height="59.43" fill="#f08622"/>
<rect x="588.41" y="660.17" width="14.6" height="7.03" fill="#d0680b"/>
<rect x="588.41" y="666.5" width="14.6" height="5.3" fill="#884507"/>
</g>
<rect x="37.6" y="517.4" width="589.1" height="161.6" fill="none" stroke="#333333" stroke-width="1.1"/>
<rect x="626.7" y="517.4" width="55.2" height="161.6" fill="#d9d9d9" stroke="#333333" stroke-width="1.1"/>
<text transform="translate(646.9,598.2) rotate(90) scale(1,1.04)" font-size="20.35" font-weight="bold" text-anchor="middle" fill="#1a1a1a">RI scores</text>
<line x1="32.3" x2="37.6" y1="671.8" y2="671.8" stroke="#333333" stroke-width="1.5"/>
<text transform="translate(28.6,676.7) scale(0.99,1)" font-size="13.7" text-anchor="end" fill="#262626" stroke="#262626" stroke-width="0.3">0.00</text>
<line x1="32.3" x2="37.6" y1="635" y2="635" stroke="#333333" stroke-width="1.5"/>
<text transform="translate(28.6,639.9) scale(0.99,1)" font-size="13.7" text-anchor="end" fill="#262626" stroke="#262626" stroke-width="0.3">0.25</text>
<line x1="32.3" x2="37.6" y1="598.2" y2="598.2" stroke="#333333" stroke-width="1.5"/>
<text transform="translate(28.6,603.1) scale(0.99,1)" font-size="13.7" text-anchor="end" fill="#262626" stroke="#262626" stroke-width="0.3">0.50</text>
<line x1="32.3" x2="37.6" y1="561.4" y2="561.4" stroke="#333333" stroke-width="1.5"/>
<text transform="translate(28.6,566.3) scale(0.99,1)" font-size="13.7" text-anchor="end" fill="#262626" stroke="#262626" stroke-width="0.3">0.75</text>
<line x1="32.3" x2="37.6" y1="524.6" y2="524.6" stroke="#333333" stroke-width="1.5"/>
<text transform="translate(28.6,529.5) scale(0.99,1)" font-size="13.7" text-anchor="end" fill="#262626" stroke="#262626" stroke-width="0.3">1.00</text>
</g>
<line x1="52.05" x2="52.05" y1="679" y2="684" stroke="#333333" stroke-width="1.3"/>
<text transform="translate(51.85,699.8) scale(1.03,1)" font-size="16.5" text-anchor="middle" fill="#262626" stroke="#262626" stroke-width="0.3">-4000</text>
<line x1="132" x2="132" y1="679" y2="684" stroke="#333333" stroke-width="1.3"/>
<text transform="translate(131.8,699.8) scale(1.03,1)" font-size="16.5" text-anchor="middle" fill="#262626" stroke="#262626" stroke-width="0.3">-3500</text>
<line x1="211.95" x2="211.95" y1="679" y2="684" stroke="#333333" stroke-width="1.3"/>
<text transform="translate(211.75,699.8) scale(1.03,1)" font-size="16.5" text-anchor="middle" fill="#262626" stroke="#262626" stroke-width="0.3">-3000</text>
<line x1="291.9" x2="291.9" y1="679" y2="684" stroke="#333333" stroke-width="1.3"/>
<text transform="translate(291.7,699.8) scale(1.03,1)" font-size="16.5" text-anchor="middle" fill="#262626" stroke="#262626" stroke-width="0.3">-2500</text>
<line x1="371.85" x2="371.85" y1="679" y2="684" stroke="#333333" stroke-width="1.3"/>
<text transform="translate(371.65,699.8) scale(1.03,1)" font-size="16.5" text-anchor="middle" fill="#262626" stroke="#262626" stroke-width="0.3">-2000</text>
<line x1="451.8" x2="451.8" y1="679" y2="684" stroke="#333333" stroke-width="1.3"/>
<text transform="translate(451.6,699.8) scale(1.03,1)" font-size="16.5" text-anchor="middle" fill="#262626" stroke="#262626" stroke-width="0.3">-1500</text>
<line x1="531.75" x2="531.75" y1="679" y2="684" stroke="#333333" stroke-width="1.3"/>
<text transform="translate(531.55,699.8) scale(1.03,1)" font-size="16.5" text-anchor="middle" fill="#262626" stroke="#262626" stroke-width="0.3">-1000</text>
<line x1="611.7" x2="611.7" y1="679" y2="684" stroke="#333333" stroke-width="1.3"/>
<text transform="translate(611.5,699.8) scale(1.03,1)" font-size="16.5" text-anchor="middle" fill="#262626" stroke="#262626" stroke-width="0.3">-500</text>
<text transform="translate(331.4,722.3) scale(1.005,1)" font-size="20.2" font-weight="bold" text-anchor="middle" fill="#000" stroke="#000" stroke-width="0.2">Age BCE</text>
<rect x="6.5" y="754.05" width="24.2" height="15.9" fill="#ece135" stroke="#000" stroke-width="1.7" stroke-linejoin="round"/>
<text transform="translate(39.6,767.55) scale(1.032,1)" font-size="16.4" text-anchor="start" fill="#000" stroke="#000" stroke-width="0.3">millet</text>
<rect x="128.5" y="754.05" width="24.2" height="15.9" fill="#c5e67b" stroke="#000" stroke-width="1.7" stroke-linejoin="round"/>
<text transform="translate(162.1,767.55) scale(1.032,1)" font-size="16.4" text-anchor="start" fill="#000" stroke="#000" stroke-width="0.3">naked barley</text>
<rect x="292.4" y="754.05" width="24.2" height="15.9" fill="#a3cf5d" stroke="#000" stroke-width="1.7" stroke-linejoin="round"/>
<text transform="translate(325.4,767.55) scale(1.032,1)" font-size="16.4" text-anchor="start" fill="#000" stroke="#000" stroke-width="0.3">hulled barley</text>
<rect x="454.7" y="754.05" width="24.2" height="15.9" fill="#f08622" stroke="#000" stroke-width="1.7" stroke-linejoin="round"/>
<text transform="translate(487.5,767.55) scale(1.032,1)" font-size="16.4" text-anchor="start" fill="#000" stroke="#000" stroke-width="0.3">free-threshing wheat</text>
<rect x="6.5" y="781.65" width="24.2" height="15.9" fill="#d0680b" stroke="#000" stroke-width="1.7" stroke-linejoin="round"/>
<text transform="translate(39.6,795.15) scale(1.032,1)" font-size="16.4" text-anchor="start" fill="#000" stroke="#000" stroke-width="0.3">einkorn</text>
<rect x="128.5" y="781.65" width="24.2" height="15.9" fill="#884507" stroke="#000" stroke-width="1.7" stroke-linejoin="round"/>
<text transform="translate(162.1,795.15) scale(1.032,1)" font-size="16.4" text-anchor="start" fill="#000" stroke="#000" stroke-width="0.3">emmer</text>
</svg>
</body></html>
